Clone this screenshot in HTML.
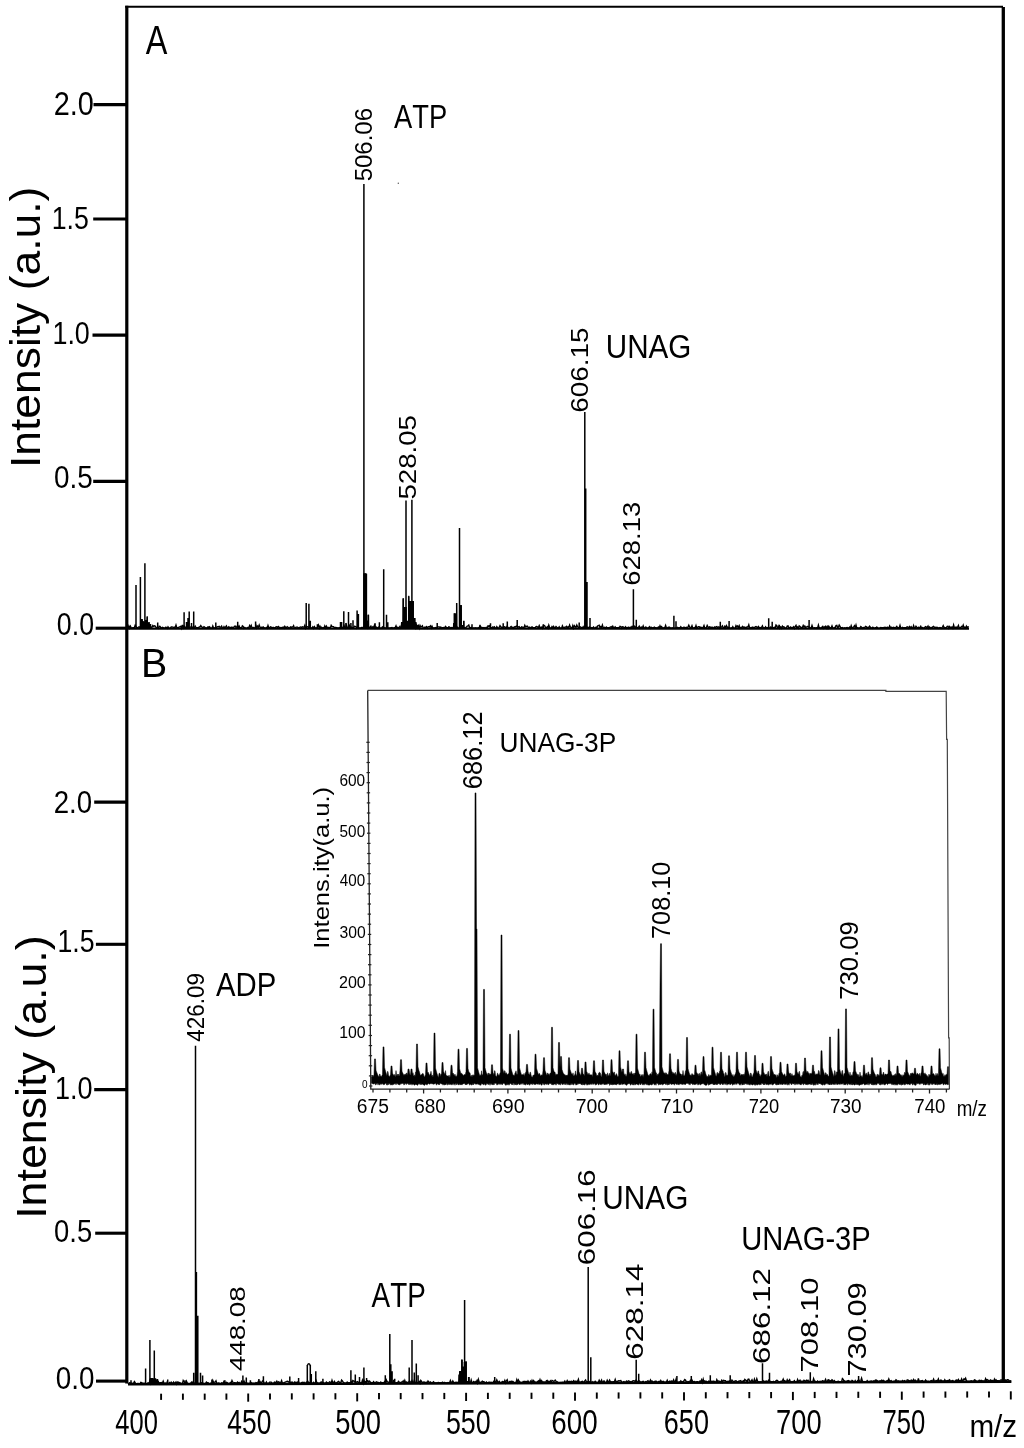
<!DOCTYPE html>
<html><head><meta charset="utf-8"><style>
html,body{margin:0;padding:0;background:#fff;}
svg{display:block;filter:grayscale(1);}
text{font-family:"Liberation Sans",sans-serif;font-size:100px;font-kerning:none;fill:#000;}
</style></head><body>
<svg width="1024" height="1448" viewBox="0 0 1024 1448">
<rect width="1024" height="1448" fill="#fff"/>
<path d="M126.8 5.8 V1383.5" stroke="#000" stroke-width="3.2" fill="none"/>
<path d="M125.2 6.7 H1003" stroke="#000" stroke-width="1.9" fill="none"/>
<path d="M1003.3 7 V1382" stroke="#000" stroke-width="3.3" fill="none"/>
<path d="M93.5 104.6 H127" stroke="#000" stroke-width="3.1"/>
<path d="M93.2 219.0 H127" stroke="#000" stroke-width="3.1"/>
<path d="M92.5 335.1 H127" stroke="#000" stroke-width="3.1"/>
<path d="M93.2 481.4 H127" stroke="#000" stroke-width="3.1"/>
<path d="M95.7 628.2 H127" stroke="#000" stroke-width="3.1"/>
<path d="M94.2 802.1 H127" stroke="#000" stroke-width="3.1"/>
<path d="M95.9 944.3 H127" stroke="#000" stroke-width="3.1"/>
<path d="M94.2 1089.6 H127" stroke="#000" stroke-width="3.1"/>
<path d="M95.2 1233.2 H127" stroke="#000" stroke-width="3.1"/>
<path d="M96.0 1381.1 H127" stroke="#000" stroke-width="3.1"/>
<text transform="matrix(0.2891 0 0 0.3263 53.65 114.68)">2.0</text>
<text transform="matrix(0.2673 0 0 0.3225 51.66 229.29)">1.5</text>
<text transform="matrix(0.2690 0 0 0.3136 52.45 344.29)">1.0</text>
<text transform="matrix(0.2788 0 0 0.3150 54.01 487.79)">0.5</text>
<text transform="matrix(0.2675 0 0 0.3107 56.85 634.90)">0.0</text>
<text transform="matrix(0.2760 0 0 0.3136 53.71 812.89)">2.0</text>
<text transform="matrix(0.2673 0 0 0.3225 57.46 951.79)">1.5</text>
<text transform="matrix(0.2706 0 0 0.3150 55.04 1098.79)">1.0</text>
<text transform="matrix(0.2742 0 0 0.3164 54.03 1241.59)">0.5</text>
<text transform="matrix(0.2782 0 0 0.3093 55.81 1388.50)">0.0</text>
<text transform="matrix(0.3242 0 0 0.4055 145.84 53.50)">A</text>
<text transform="matrix(0.3927 0 0 0.4041 141.08 677.30)">B</text>
<text transform="matrix(0 -0.4444 0.4302 0 39.77 468.10)">Intensity (a.u.)</text>
<text transform="matrix(0 -0.4475 0.4270 0 45.94 1218.83)">Intensity (a.u.)</text>
<text transform="matrix(0.2558 0 0 0.3503 115.21 1434.06)">400</text>
<text transform="matrix(0.2639 0 0 0.3503 227.29 1434.06)">450</text>
<text transform="matrix(0.2737 0 0 0.3503 335.20 1434.06)">500</text>
<text transform="matrix(0.2687 0 0 0.3503 445.92 1434.06)">550</text>
<text transform="matrix(0.2781 0 0 0.3503 551.29 1434.06)">600</text>
<text transform="matrix(0.2705 0 0 0.3503 663.83 1434.06)">650</text>
<text transform="matrix(0.2731 0 0 0.3503 776.10 1434.06)">700</text>
<text transform="matrix(0.2566 0 0 0.3503 882.38 1434.06)">750</text>
<text transform="matrix(0.2964 0 0 0.3077 969.43 1437.00)">m/z</text>
<path d="M161.1 1393.7 V1399.9" stroke="#000" stroke-width="1.9"/>
<path d="M182.9 1393.6 V1399.8" stroke="#000" stroke-width="1.9"/>
<path d="M204.7 1393.6 V1399.8" stroke="#000" stroke-width="1.9"/>
<path d="M226.4 1393.5 V1399.7" stroke="#000" stroke-width="1.9"/>
<path d="M248.2 1393.5 V1401.7" stroke="#000" stroke-width="1.9"/>
<path d="M270.0 1393.4 V1399.6" stroke="#000" stroke-width="1.9"/>
<path d="M291.8 1393.3 V1399.5" stroke="#000" stroke-width="1.9"/>
<path d="M313.6 1393.3 V1399.5" stroke="#000" stroke-width="1.9"/>
<path d="M335.4 1393.2 V1399.4" stroke="#000" stroke-width="1.9"/>
<path d="M357.2 1393.2 V1401.4" stroke="#000" stroke-width="1.9"/>
<path d="M379.0 1393.1 V1399.3" stroke="#000" stroke-width="1.9"/>
<path d="M400.7 1393.0 V1399.2" stroke="#000" stroke-width="1.9"/>
<path d="M422.5 1393.0 V1399.2" stroke="#000" stroke-width="1.9"/>
<path d="M444.3 1392.9 V1399.1" stroke="#000" stroke-width="1.9"/>
<path d="M466.1 1392.8 V1401.0" stroke="#000" stroke-width="1.9"/>
<path d="M487.9 1392.8 V1399.0" stroke="#000" stroke-width="1.9"/>
<path d="M509.7 1392.7 V1398.9" stroke="#000" stroke-width="1.9"/>
<path d="M531.5 1392.7 V1398.9" stroke="#000" stroke-width="1.9"/>
<path d="M553.3 1392.6 V1398.8" stroke="#000" stroke-width="1.9"/>
<path d="M575.0 1392.5 V1400.7" stroke="#000" stroke-width="1.9"/>
<path d="M596.8 1392.5 V1398.7" stroke="#000" stroke-width="1.9"/>
<path d="M618.6 1392.4 V1398.6" stroke="#000" stroke-width="1.9"/>
<path d="M640.4 1392.3 V1398.5" stroke="#000" stroke-width="1.9"/>
<path d="M662.2 1392.3 V1398.5" stroke="#000" stroke-width="1.9"/>
<path d="M684.0 1392.2 V1400.4" stroke="#000" stroke-width="1.9"/>
<path d="M705.8 1392.2 V1398.4" stroke="#000" stroke-width="1.9"/>
<path d="M727.5 1392.1 V1398.3" stroke="#000" stroke-width="1.9"/>
<path d="M749.3 1392.0 V1398.2" stroke="#000" stroke-width="1.9"/>
<path d="M771.1 1392.0 V1398.2" stroke="#000" stroke-width="1.9"/>
<path d="M792.9 1391.9 V1400.1" stroke="#000" stroke-width="1.9"/>
<path d="M814.7 1391.9 V1398.1" stroke="#000" stroke-width="1.9"/>
<path d="M836.5 1391.8 V1398.0" stroke="#000" stroke-width="1.9"/>
<path d="M858.3 1391.7 V1397.9" stroke="#000" stroke-width="1.9"/>
<path d="M880.1 1391.7 V1397.9" stroke="#000" stroke-width="1.9"/>
<path d="M901.8 1391.6 V1399.8" stroke="#000" stroke-width="1.9"/>
<path d="M923.6 1391.5 V1397.7" stroke="#000" stroke-width="1.9"/>
<path d="M945.4 1391.5 V1397.7" stroke="#000" stroke-width="1.9"/>
<path d="M967.2 1391.4 V1397.6" stroke="#000" stroke-width="1.9"/>
<path d="M989.0 1391.4 V1397.6" stroke="#000" stroke-width="1.9"/>
<path d="M1010.8 1391.3 V1399.5" stroke="#000" stroke-width="1.9"/>
<circle cx="398.3" cy="183.3" r="0.7" fill="#555"/>
<text transform="matrix(0.2735 0 0 0.3314 394.05 127.80)">ATP</text>
<text transform="matrix(0.2963 0 0 0.3333 605.81 358.27)">UNAG</text>
<text transform="matrix(0.2933 0 0 0.3329 215.94 995.70)">ADP</text>
<text transform="matrix(0.2788 0 0 0.3430 371.55 1306.60)">ATP</text>
<text transform="matrix(0.2977 0 0 0.3362 602.30 1208.67)">UNAG</text>
<text transform="matrix(0.2913 0 0 0.3404 741.25 1249.67)">UNAG-3P</text>
<text transform="matrix(0 -0.2400 0.2387 0 371.67 181.36)">506.06</text>
<text transform="matrix(0 -0.2762 0.2387 0 415.67 499.51)">528.05</text>
<text transform="matrix(0 -0.2792 0.2415 0 588.46 412.72)">606.15</text>
<text transform="matrix(0 -0.2743 0.2359 0 639.67 585.69)">628.13</text>
<text transform="matrix(0 -0.2249 0.2330 0 203.97 1041.72)">426.09</text>
<text transform="matrix(0 -0.2787 0.2133 0 244.79 1371.34)">448.08</text>
<text transform="matrix(0 -0.3131 0.2345 0 594.57 1265.19)">606.16</text>
<text transform="matrix(0 -0.3146 0.2345 0 643.17 1359.70)">628.14</text>
<text transform="matrix(0 -0.3141 0.2359 0 769.57 1364.00)">686.12</text>
<text transform="matrix(0 -0.3110 0.2429 0 817.96 1372.49)">708.10</text>
<text transform="matrix(0 -0.3085 0.2486 0 866.26 1376.58)">730.09</text>
<path d="M128.0 628.60 L969.0 628.60" stroke="#000" stroke-width="2.4"/><path d="M128.0 628.0 L128.8 626.0 L129.6 628.1 L130.4 626.2 L131.2 627.9 L132.0 628.1 L132.8 627.8 L133.6 627.8 L134.4 627.4 L135.2 625.2 L136.0 626.5 L136.8 627.8 L137.6 627.7 L138.4 627.1 L139.2 626.8 L140.0 628.2 L140.8 627.5 L141.6 627.9 L142.4 627.8 L143.2 626.6 L144.0 627.2 L144.8 627.7 L145.6 626.3 L146.4 625.6 L147.2 625.6 L148.0 627.4 L148.8 626.5 L149.6 627.4 L150.4 627.2 L151.2 627.6 L152.0 627.2 L152.8 625.5 L153.6 626.4 L154.4 625.8 L155.2 626.1 L156.0 627.3 L156.8 628.0 L157.6 628.1 L158.4 628.3 L159.2 626.2 L160.0 626.3 L160.8 627.7 L161.6 628.1 L162.4 627.3 L163.2 627.7 L164.0 628.1 L164.8 628.2 L165.6 627.2 L166.4 627.3 L167.2 628.3 L168.0 626.8 L168.8 627.9 L169.6 628.2 L170.4 628.0 L171.2 627.0 L172.0 627.0 L172.8 627.1 L173.6 627.4 L174.4 627.3 L175.2 627.5 L176.0 625.1 L176.8 627.7 L177.6 627.8 L178.4 627.7 L179.2 626.9 L180.0 626.9 L180.8 626.4 L181.6 628.3 L182.4 624.9 L183.2 627.8 L184.0 626.0 L184.8 627.3 L185.6 627.3 L186.4 627.1 L187.2 627.4 L188.0 626.8 L188.8 628.0 L189.6 627.7 L190.4 627.2 L191.2 626.9 L192.0 628.1 L192.8 627.2 L193.6 628.2 L194.4 627.5 L195.2 626.1 L196.0 627.5 L196.8 627.8 L197.6 627.8 L198.4 627.9 L199.2 627.0 L200.0 626.9 L200.8 625.6 L201.6 626.8 L202.4 627.4 L203.2 627.5 L204.0 626.7 L204.8 627.3 L205.6 628.1 L206.4 628.2 L207.2 627.7 L208.0 626.8 L208.8 627.3 L209.6 626.8 L210.4 628.1 L211.2 628.2 L212.0 628.2 L212.8 626.0 L213.6 627.9 L214.4 628.0 L215.2 627.7 L216.0 628.2 L216.8 627.0 L217.6 626.8 L218.4 626.7 L219.2 626.4 L220.0 627.2 L220.8 627.1 L221.6 626.2 L222.4 628.3 L223.2 628.2 L224.0 626.7 L224.8 628.0 L225.6 627.0 L226.4 625.9 L227.2 628.3 L228.0 627.5 L228.8 626.7 L229.6 627.7 L230.4 627.4 L231.2 627.5 L232.0 627.1 L232.8 627.9 L233.6 627.7 L234.4 626.4 L235.2 626.1 L236.0 627.4 L236.8 626.7 L237.6 625.6 L238.4 627.8 L239.2 626.2 L240.0 628.0 L240.8 627.8 L241.6 627.8 L242.4 625.9 L243.2 626.4 L244.0 628.2 L244.8 627.4 L245.6 628.2 L246.4 628.3 L247.2 628.1 L248.0 627.4 L248.8 628.2 L249.6 625.6 L250.4 627.2 L251.2 625.4 L252.0 627.8 L252.8 627.6 L253.6 627.5 L254.4 628.3 L255.2 627.7 L256.0 625.6 L256.8 627.9 L257.6 626.2 L258.4 627.3 L259.2 625.1 L260.0 627.3 L260.8 627.6 L261.6 627.2 L262.4 627.5 L263.2 626.9 L264.0 627.7 L264.8 628.1 L265.6 628.3 L266.4 627.5 L267.2 628.2 L268.0 625.5 L268.8 627.7 L269.6 628.1 L270.4 626.8 L271.2 627.2 L272.0 627.8 L272.8 627.4 L273.6 627.4 L274.4 628.2 L275.2 627.6 L276.0 627.0 L276.8 626.8 L277.6 627.6 L278.4 626.6 L279.2 627.3 L280.0 628.2 L280.8 627.6 L281.6 627.7 L282.4 627.4 L283.2 627.1 L284.0 628.1 L284.8 626.3 L285.6 627.4 L286.4 627.6 L287.2 626.6 L288.0 627.2 L288.8 627.8 L289.6 628.2 L290.4 627.0 L291.2 627.4 L292.0 627.0 L292.8 627.0 L293.6 625.7 L294.4 628.1 L295.2 628.1 L296.0 627.2 L296.8 627.1 L297.6 627.1 L298.4 628.1 L299.2 627.7 L300.0 627.1 L300.8 627.0 L301.6 627.6 L302.4 626.8 L303.2 627.1 L304.0 627.2 L304.8 625.3 L305.6 628.3 L306.4 627.1 L307.2 626.8 L308.0 626.6 L308.8 628.2 L309.6 627.6 L310.4 627.3 L311.2 628.3 L312.0 628.2 L312.8 626.9 L313.6 628.3 L314.4 626.7 L315.2 627.9 L316.0 628.3 L316.8 627.8 L317.6 626.9 L318.4 625.1 L319.2 628.1 L320.0 626.2 L320.8 628.0 L321.6 627.2 L322.4 628.1 L323.2 627.7 L324.0 628.1 L324.8 625.9 L325.6 627.9 L326.4 626.2 L327.2 628.2 L328.0 627.3 L328.8 627.6 L329.6 627.5 L330.4 628.0 L331.2 625.4 L332.0 626.5 L332.8 626.6 L333.6 626.7 L334.4 628.1 L335.2 627.4 L336.0 627.5 L336.8 627.8 L337.6 627.9 L338.4 628.2 L339.2 627.6 L340.0 628.0 L340.8 627.9 L341.6 627.4 L342.4 627.8 L343.2 627.0 L344.0 625.5 L344.8 627.8 L345.6 628.3 L346.4 625.0 L347.2 627.5 L348.0 627.5 L348.8 628.1 L349.6 625.6 L350.4 627.9 L351.2 627.1 L352.0 627.9 L352.8 627.7 L353.6 627.9 L354.4 626.2 L355.2 626.4 L356.0 626.7 L356.8 628.2 L357.6 627.0 L358.4 627.4 L359.2 627.8 L360.0 628.1 L360.8 628.0 L361.6 627.5 L362.4 627.5 L363.2 628.1 L364.0 627.5 L364.8 626.0 L365.6 627.5 L366.4 628.0 L367.2 628.3 L368.0 626.3 L368.8 628.1 L369.6 627.4 L370.4 626.6 L371.2 627.9 L372.0 627.9 L372.8 626.8 L373.6 627.7 L374.4 625.3 L375.2 628.0 L376.0 627.0 L376.8 627.6 L377.6 628.3 L378.4 627.1 L379.2 627.0 L380.0 628.1 L380.8 628.2 L381.6 628.2 L382.4 626.9 L383.2 627.9 L384.0 628.2 L384.8 627.6 L385.6 628.2 L386.4 628.1 L387.2 627.6 L388.0 627.9 L388.8 628.3 L389.6 628.0 L390.4 628.0 L391.2 627.7 L392.0 627.6 L392.8 628.3 L393.6 628.0 L394.4 627.6 L395.2 627.6 L396.0 625.9 L396.8 628.1 L397.6 627.3 L398.4 627.7 L399.2 627.5 L400.0 626.3 L400.8 628.0 L401.6 627.1 L402.4 627.2 L403.2 628.0 L404.0 627.7 L404.8 626.9 L405.6 628.0 L406.4 626.6 L407.2 627.8 L408.0 627.8 L408.8 628.2 L409.6 627.1 L410.4 626.8 L411.2 627.2 L412.0 628.0 L412.8 628.0 L413.6 626.3 L414.4 627.2 L415.2 625.0 L416.0 628.2 L416.8 626.6 L417.6 627.9 L418.4 625.8 L419.2 628.1 L420.0 625.4 L420.8 627.1 L421.6 626.7 L422.4 625.8 L423.2 627.9 L424.0 628.3 L424.8 627.2 L425.6 627.6 L426.4 626.7 L427.2 628.1 L428.0 626.9 L428.8 626.8 L429.6 627.0 L430.4 625.9 L431.2 627.9 L432.0 626.2 L432.8 628.0 L433.6 627.9 L434.4 628.1 L435.2 627.6 L436.0 628.1 L436.8 627.5 L437.6 626.8 L438.4 626.9 L439.2 627.0 L440.0 627.2 L440.8 627.1 L441.6 628.3 L442.4 627.7 L443.2 627.8 L444.0 627.4 L444.8 628.1 L445.6 626.5 L446.4 627.4 L447.2 627.6 L448.0 628.1 L448.8 626.8 L449.6 627.0 L450.4 628.1 L451.2 627.6 L452.0 627.5 L452.8 627.9 L453.6 628.1 L454.4 628.1 L455.2 627.4 L456.0 628.3 L456.8 626.9 L457.6 627.4 L458.4 628.2 L459.2 628.0 L460.0 627.7 L460.8 627.9 L461.6 628.1 L462.4 628.0 L463.2 628.0 L464.0 627.6 L464.8 627.9 L465.6 627.8 L466.4 627.1 L467.2 626.1 L468.0 625.8 L468.8 625.0 L469.6 627.6 L470.4 627.9 L471.2 627.4 L472.0 628.2 L472.8 628.2 L473.6 627.9 L474.4 628.1 L475.2 627.7 L476.0 628.3 L476.8 627.9 L477.6 628.1 L478.4 627.7 L479.2 628.2 L480.0 625.0 L480.8 628.1 L481.6 627.2 L482.4 627.5 L483.2 628.1 L484.0 627.6 L484.8 628.0 L485.6 627.7 L486.4 627.3 L487.2 628.2 L488.0 625.9 L488.8 626.2 L489.6 625.8 L490.4 627.8 L491.2 627.7 L492.0 627.7 L492.8 627.0 L493.6 627.6 L494.4 626.9 L495.2 628.1 L496.0 628.2 L496.8 626.6 L497.6 627.8 L498.4 628.2 L499.2 627.4 L500.0 625.7 L500.8 626.9 L501.6 627.5 L502.4 627.2 L503.2 627.9 L504.0 627.0 L504.8 626.8 L505.6 628.0 L506.4 627.7 L507.2 626.2 L508.0 627.7 L508.8 628.0 L509.6 628.1 L510.4 627.1 L511.2 626.5 L512.0 627.6 L512.8 627.4 L513.6 628.2 L514.4 626.8 L515.2 627.1 L516.0 626.3 L516.8 626.0 L517.6 626.8 L518.4 627.0 L519.2 626.7 L520.0 628.0 L520.8 628.0 L521.6 626.9 L522.4 627.2 L523.2 627.5 L524.0 627.9 L524.8 625.3 L525.6 626.8 L526.4 626.5 L527.2 626.1 L528.0 626.9 L528.8 628.2 L529.6 627.2 L530.4 627.8 L531.2 627.3 L532.0 626.9 L532.8 627.6 L533.6 627.7 L534.4 627.7 L535.2 627.9 L536.0 626.7 L536.8 626.5 L537.6 627.1 L538.4 627.5 L539.2 625.7 L540.0 627.8 L540.8 627.5 L541.6 627.1 L542.4 628.2 L543.2 626.0 L544.0 625.4 L544.8 625.9 L545.6 627.8 L546.4 628.1 L547.2 626.9 L548.0 628.2 L548.8 625.1 L549.6 627.5 L550.4 628.3 L551.2 628.2 L552.0 626.7 L552.8 627.9 L553.6 626.5 L554.4 627.9 L555.2 627.6 L556.0 626.5 L556.8 627.3 L557.6 627.9 L558.4 628.2 L559.2 626.9 L560.0 628.2 L560.8 628.2 L561.6 628.2 L562.4 625.9 L563.2 627.6 L564.0 627.7 L564.8 627.3 L565.6 627.2 L566.4 626.4 L567.2 627.9 L568.0 626.8 L568.8 627.7 L569.6 625.0 L570.4 626.9 L571.2 627.8 L572.0 628.2 L572.8 625.6 L573.6 628.1 L574.4 625.8 L575.2 626.8 L576.0 627.5 L576.8 625.1 L577.6 626.8 L578.4 627.2 L579.2 627.2 L580.0 626.8 L580.8 627.1 L581.6 627.7 L582.4 628.1 L583.2 626.7 L584.0 628.0 L584.8 626.7 L585.6 627.1 L586.4 628.0 L587.2 627.3 L588.0 628.1 L588.8 627.4 L589.6 627.0 L590.4 628.0 L591.2 628.0 L592.0 627.6 L592.8 628.3 L593.6 627.1 L594.4 628.3 L595.2 627.8 L596.0 627.2 L596.8 628.1 L597.6 625.9 L598.4 625.7 L599.2 625.3 L600.0 627.7 L600.8 626.6 L601.6 627.5 L602.4 625.1 L603.2 627.6 L604.0 628.2 L604.8 627.3 L605.6 628.3 L606.4 627.1 L607.2 628.0 L608.0 627.7 L608.8 627.6 L609.6 627.5 L610.4 627.1 L611.2 626.7 L612.0 627.7 L612.8 626.3 L613.6 627.8 L614.4 627.8 L615.2 626.8 L616.0 627.9 L616.8 627.7 L617.6 627.8 L618.4 627.5 L619.2 628.2 L620.0 626.3 L620.8 626.5 L621.6 628.1 L622.4 626.8 L623.2 627.0 L624.0 627.3 L624.8 628.1 L625.6 626.9 L626.4 628.3 L627.2 627.5 L628.0 627.7 L628.8 627.1 L629.6 627.7 L630.4 628.1 L631.2 626.7 L632.0 627.7 L632.8 626.4 L633.6 627.5 L634.4 626.3 L635.2 628.0 L636.0 626.8 L636.8 627.3 L637.6 627.8 L638.4 627.3 L639.2 626.2 L640.0 628.1 L640.8 627.3 L641.6 627.1 L642.4 628.0 L643.2 625.9 L644.0 627.9 L644.8 628.1 L645.6 627.1 L646.4 627.3 L647.2 628.2 L648.0 627.9 L648.8 627.4 L649.6 626.6 L650.4 628.2 L651.2 627.3 L652.0 628.2 L652.8 627.8 L653.6 627.7 L654.4 627.2 L655.2 627.8 L656.0 627.8 L656.8 627.9 L657.6 627.8 L658.4 627.0 L659.2 627.9 L660.0 625.8 L660.8 627.5 L661.6 626.6 L662.4 627.8 L663.2 628.1 L664.0 627.8 L664.8 627.7 L665.6 625.5 L666.4 628.0 L667.2 628.3 L668.0 627.5 L668.8 627.3 L669.6 627.2 L670.4 628.1 L671.2 628.0 L672.0 628.2 L672.8 627.8 L673.6 628.1 L674.4 628.3 L675.2 628.3 L676.0 627.8 L676.8 628.1 L677.6 627.4 L678.4 628.1 L679.2 627.7 L680.0 628.0 L680.8 626.8 L681.6 627.9 L682.4 627.7 L683.2 628.2 L684.0 627.2 L684.8 628.2 L685.6 627.6 L686.4 627.3 L687.2 627.9 L688.0 627.1 L688.8 625.2 L689.6 627.0 L690.4 628.0 L691.2 627.6 L692.0 625.7 L692.8 628.1 L693.6 628.1 L694.4 627.5 L695.2 627.9 L696.0 625.5 L696.8 628.1 L697.6 627.2 L698.4 626.6 L699.2 626.6 L700.0 628.0 L700.8 627.2 L701.6 627.7 L702.4 627.8 L703.2 627.4 L704.0 625.6 L704.8 628.2 L705.6 627.9 L706.4 627.5 L707.2 625.5 L708.0 627.0 L708.8 628.0 L709.6 626.8 L710.4 627.1 L711.2 627.7 L712.0 627.1 L712.8 627.6 L713.6 627.9 L714.4 627.0 L715.2 627.7 L716.0 626.8 L716.8 626.6 L717.6 627.9 L718.4 627.0 L719.2 626.9 L720.0 628.3 L720.8 627.5 L721.6 627.0 L722.4 625.9 L723.2 627.8 L724.0 628.2 L724.8 626.3 L725.6 627.8 L726.4 625.7 L727.2 627.2 L728.0 627.1 L728.8 627.4 L729.6 628.2 L730.4 628.3 L731.2 627.9 L732.0 628.2 L732.8 626.7 L733.6 628.1 L734.4 628.2 L735.2 628.0 L736.0 625.7 L736.8 627.0 L737.6 626.0 L738.4 627.7 L739.2 625.7 L740.0 628.2 L740.8 627.5 L741.6 627.9 L742.4 626.4 L743.2 627.4 L744.0 626.9 L744.8 627.7 L745.6 627.4 L746.4 627.2 L747.2 627.0 L748.0 627.1 L748.8 624.9 L749.6 628.0 L750.4 627.9 L751.2 627.5 L752.0 627.6 L752.8 627.1 L753.6 627.6 L754.4 627.7 L755.2 626.9 L756.0 626.6 L756.8 627.1 L757.6 627.7 L758.4 626.5 L759.2 627.8 L760.0 627.6 L760.8 628.0 L761.6 627.4 L762.4 625.9 L763.2 628.1 L764.0 627.7 L764.8 628.2 L765.6 626.9 L766.4 628.1 L767.2 627.6 L768.0 627.9 L768.8 628.2 L769.6 628.2 L770.4 627.0 L771.2 627.2 L772.0 628.1 L772.8 628.1 L773.6 627.7 L774.4 627.4 L775.2 627.9 L776.0 625.0 L776.8 625.7 L777.6 628.2 L778.4 627.7 L779.2 624.8 L780.0 628.3 L780.8 627.0 L781.6 628.2 L782.4 626.1 L783.2 627.2 L784.0 626.8 L784.8 628.1 L785.6 628.0 L786.4 628.1 L787.2 626.0 L788.0 625.8 L788.8 627.9 L789.6 628.0 L790.4 627.0 L791.2 627.7 L792.0 627.4 L792.8 627.6 L793.6 626.7 L794.4 628.3 L795.2 626.5 L796.0 625.3 L796.8 627.9 L797.6 626.9 L798.4 628.2 L799.2 625.9 L800.0 626.5 L800.8 627.4 L801.6 627.5 L802.4 627.5 L803.2 625.5 L804.0 627.1 L804.8 626.1 L805.6 627.8 L806.4 626.9 L807.2 626.7 L808.0 626.4 L808.8 627.0 L809.6 627.4 L810.4 628.0 L811.2 627.9 L812.0 625.5 L812.8 627.8 L813.6 628.1 L814.4 627.8 L815.2 628.0 L816.0 628.0 L816.8 627.8 L817.6 627.9 L818.4 625.1 L819.2 628.0 L820.0 627.7 L820.8 628.3 L821.6 627.6 L822.4 626.6 L823.2 628.3 L824.0 626.8 L824.8 627.7 L825.6 626.5 L826.4 628.1 L827.2 626.4 L828.0 628.3 L828.8 626.3 L829.6 627.4 L830.4 627.9 L831.2 627.8 L832.0 625.8 L832.8 627.9 L833.6 628.2 L834.4 627.6 L835.2 627.8 L836.0 625.5 L836.8 625.3 L837.6 627.4 L838.4 627.2 L839.2 625.0 L840.0 626.3 L840.8 628.0 L841.6 627.8 L842.4 627.5 L843.2 628.2 L844.0 628.2 L844.8 627.8 L845.6 628.3 L846.4 627.7 L847.2 627.6 L848.0 628.3 L848.8 627.9 L849.6 627.1 L850.4 628.3 L851.2 625.7 L852.0 628.0 L852.8 627.7 L853.6 627.1 L854.4 625.8 L855.2 627.7 L856.0 625.1 L856.8 628.1 L857.6 627.8 L858.4 628.2 L859.2 628.2 L860.0 627.8 L860.8 626.6 L861.6 627.2 L862.4 628.3 L863.2 627.7 L864.0 627.5 L864.8 627.6 L865.6 626.4 L866.4 626.8 L867.2 628.2 L868.0 627.4 L868.8 627.6 L869.6 626.2 L870.4 627.2 L871.2 627.9 L872.0 628.3 L872.8 627.3 L873.6 627.9 L874.4 628.2 L875.2 627.8 L876.0 628.2 L876.8 627.0 L877.6 627.8 L878.4 628.1 L879.2 628.1 L880.0 628.0 L880.8 627.6 L881.6 627.8 L882.4 627.8 L883.2 627.5 L884.0 628.0 L884.8 627.3 L885.6 627.4 L886.4 628.2 L887.2 627.2 L888.0 627.9 L888.8 627.9 L889.6 625.9 L890.4 627.6 L891.2 627.3 L892.0 627.5 L892.8 628.0 L893.6 627.2 L894.4 627.5 L895.2 628.1 L896.0 627.3 L896.8 626.4 L897.6 627.8 L898.4 627.7 L899.2 627.7 L900.0 625.4 L900.8 628.1 L901.6 628.0 L902.4 627.4 L903.2 627.9 L904.0 627.7 L904.8 627.8 L905.6 627.8 L906.4 627.6 L907.2 626.8 L908.0 627.0 L908.8 628.2 L909.6 626.7 L910.4 628.0 L911.2 626.8 L912.0 628.2 L912.8 628.2 L913.6 625.7 L914.4 628.3 L915.2 627.9 L916.0 626.3 L916.8 627.2 L917.6 628.0 L918.4 627.3 L919.2 627.5 L920.0 627.9 L920.8 626.4 L921.6 628.0 L922.4 627.5 L923.2 627.9 L924.0 628.1 L924.8 627.2 L925.6 626.7 L926.4 627.2 L927.2 627.3 L928.0 626.1 L928.8 628.3 L929.6 627.1 L930.4 628.3 L931.2 627.6 L932.0 627.7 L932.8 626.9 L933.6 626.4 L934.4 627.3 L935.2 627.6 L936.0 627.2 L936.8 628.0 L937.6 627.4 L938.4 628.3 L939.2 627.9 L940.0 627.5 L940.8 627.8 L941.6 628.3 L942.4 627.0 L943.2 625.6 L944.0 627.8 L944.8 627.6 L945.6 628.1 L946.4 627.7 L947.2 626.4 L948.0 626.3 L948.8 628.1 L949.6 626.5 L950.4 627.6 L951.2 627.2 L952.0 627.0 L952.8 628.3 L953.6 624.9 L954.4 627.6 L955.2 627.9 L956.0 627.0 L956.8 627.7 L957.6 627.2 L958.4 625.4 L959.2 628.0 L960.0 628.1 L960.8 627.4 L961.6 626.5 L962.4 627.0 L963.2 625.1 L964.0 628.0 L964.8 627.3 L965.6 628.0 L966.4 626.1 L967.2 627.7 L968.0 626.8 L968.8 627.2" fill="none" stroke="#000" stroke-width="1.4" stroke-linejoin="miter"/>
<path d="M136.0 628.8 V584.9 M140.4 628.8 V577.1 M144.9 628.8 V563.3 M147.2 628.8 V616.6 M142.0 628.8 V619.0 M143.0 628.8 V621.0 M146.0 628.8 V620.0 M149.0 628.8 V622.0 M150.5 628.8 V624.0 M157.7 628.8 V622.5 M184.1 628.8 V612.2 M186.5 628.8 V622.0 M189.2 628.8 V611.5 M188.0 628.8 V618.0 M193.7 628.8 V611.5 M191.5 628.8 V623.0 M215.8 628.8 V622.5 M237.7 628.8 V621.8 M255.6 628.8 V621.5 M306.2 628.8 V603.1 M308.9 628.8 V603.7 M310.3 628.8 V620.8 M317.4 628.8 V624.3 M340.5 628.8 V622.0 M341.6 628.8 V622.0 M343.8 628.8 V611.3 M345.9 628.8 V623.0 M348.5 628.8 V612.0 M350.9 628.8 V623.0 M353.0 628.8 V620.2 M357.1 628.8 V610.6 M358.4 628.8 V614.0 M363.9 628.8 V184.0 M365.4 628.8 V573.4 M366.4 628.8 V573.7 M368.4 628.8 V614.7 M371.0 628.8 V625.4 M375.1 628.8 V623.2 M379.4 628.8 V622.2 M383.7 628.8 V569.3 M386.5 628.8 V614.7 M387.8 628.8 V622.2 M403.3 628.8 V598.3 M404.5 628.8 V610.0 M406.0 628.8 V500.5 M408.7 628.8 V596.2 M410.5 628.8 V601.0 M411.9 628.8 V499.8 M413.2 628.8 V601.0 M414.6 628.8 V618.1 M437.2 628.8 V622.9 M454.3 628.8 V613.3 M456.7 628.8 V603.0 M459.5 628.8 V527.9 M461.1 628.8 V605.1 M463.8 628.8 V620.8 M472.0 628.8 V624.2 M490.5 628.8 V623.3 M503.2 628.8 V623.3 M507.3 628.8 V621.5 M517.2 628.8 V620.1 M543.3 628.8 V624.2 M579.2 628.8 V622.4 M584.8 628.8 V412.0 M585.7 628.8 V488.6 M587.0 628.8 V582.0 M590.0 628.8 V618.0 M633.4 628.8 V589.2 M636.3 628.8 V619.7 M673.9 628.8 V615.7 M676.0 628.8 V621.3 M720.3 628.8 V621.7 M729.1 628.8 V621.0 M768.7 628.8 V618.3 M772.2 628.8 V621.7 M809.1 628.8 V620.1" stroke="#000" stroke-width="1.5" fill="none"/>
<path d="M140.5 628.5 L140.8 619.0 L142.5 619.0 L143.0 621.5 L145.0 621.5 L146.5 621.0 L146.8 616.5 L147.8 616.5 L148.0 622.5 L149.5 622.5 L150.0 625.5 L151.5 626.5 L152.0 628.5Z" fill="#000"/>
<path d="M400.5 628.5 L401.0 622.0 L402.4 622.0 L402.6 598.5 L403.7 598.5 L403.9 607.0 L406.8 607.0 L406.9 620.7 L408.1 620.7 L408.2 595.8 L409.3 595.8 L409.4 601.0 L413.7 601.0 L413.8 618.0 L415.4 618.0 L415.5 622.0 L416.5 622.0 L417.0 624.5 L418.5 625.5 L419.0 628.5Z" fill="#000"/>
<path d="M452.8 628.5 L453.1 623.0 L454.3 623.0 L454.3 613.2 L456.0 613.2 L456.0 603.0 L457.0 603.0 L457.2 628.5Z" fill="#000"/>
<path d="M459.5 628.5 L459.8 605.2 L461.8 605.2 L462.0 625.0 L463.0 625.0 L463.1 621.0 L464.3 621.0 L464.5 627.0 L465.0 628.5Z" fill="#000"/>
<path d="M363.2 628.5 L363.2 573.2 L366.5 573.2 L366.5 620.5 L367.6 620.5 L367.6 614.7 L369.0 614.7 L369.2 628.5Z" fill="#000"/>
<path d="M128.0 1384.30 L1011.4 1381.80" stroke="#000" stroke-width="2.4"/><path d="M128.0 1382.9 L128.8 1383.7 L129.6 1382.8 L130.4 1383.0 L131.2 1383.2 L132.0 1383.2 L132.8 1383.6 L133.6 1383.1 L134.4 1381.6 L135.2 1382.7 L136.0 1383.7 L136.8 1383.8 L137.6 1383.5 L138.4 1383.4 L139.2 1383.9 L140.0 1383.7 L140.8 1382.3 L141.6 1382.7 L142.4 1383.2 L143.2 1383.2 L144.0 1383.5 L144.8 1383.2 L145.6 1383.3 L146.4 1383.8 L147.2 1383.8 L148.0 1382.9 L148.8 1383.8 L149.6 1381.8 L150.4 1383.9 L151.2 1382.6 L152.0 1383.1 L152.8 1383.1 L153.6 1383.8 L154.4 1382.9 L155.2 1382.5 L156.0 1383.0 L156.8 1381.5 L157.6 1382.6 L158.4 1382.1 L159.2 1383.9 L160.0 1382.8 L160.8 1382.8 L161.6 1382.5 L162.4 1383.0 L163.2 1381.2 L164.0 1383.3 L164.8 1383.3 L165.6 1383.1 L166.4 1383.9 L167.2 1382.0 L168.0 1383.7 L168.8 1383.4 L169.6 1382.5 L170.4 1383.6 L171.2 1382.1 L172.0 1383.0 L172.8 1383.1 L173.6 1382.1 L174.4 1383.8 L175.2 1382.8 L176.0 1382.0 L176.8 1383.9 L177.6 1382.0 L178.4 1382.2 L179.2 1382.5 L180.0 1382.7 L180.8 1383.8 L181.6 1383.4 L182.4 1383.8 L183.2 1380.5 L184.0 1381.8 L184.8 1382.8 L185.6 1383.2 L186.4 1381.1 L187.2 1382.8 L188.0 1383.3 L188.8 1383.8 L189.6 1383.5 L190.4 1383.7 L191.2 1382.6 L192.0 1381.9 L192.8 1383.6 L193.6 1383.6 L194.4 1383.0 L195.2 1383.5 L196.0 1383.2 L196.8 1381.6 L197.6 1383.0 L198.4 1383.4 L199.2 1383.4 L200.0 1383.3 L200.8 1382.6 L201.6 1383.1 L202.4 1382.6 L203.2 1383.5 L204.0 1383.4 L204.8 1383.7 L205.6 1383.4 L206.4 1382.0 L207.2 1382.7 L208.0 1382.7 L208.8 1383.3 L209.6 1383.8 L210.4 1383.3 L211.2 1383.3 L212.0 1383.6 L212.8 1380.5 L213.6 1382.6 L214.4 1382.1 L215.2 1382.1 L216.0 1380.8 L216.8 1383.2 L217.6 1383.6 L218.4 1383.1 L219.2 1383.2 L220.0 1383.5 L220.8 1383.7 L221.6 1382.8 L222.4 1383.3 L223.2 1382.9 L224.0 1381.3 L224.8 1383.1 L225.6 1383.1 L226.4 1382.3 L227.2 1382.5 L228.0 1383.7 L228.8 1383.4 L229.6 1383.5 L230.4 1382.6 L231.2 1382.8 L232.0 1380.6 L232.8 1382.2 L233.6 1383.5 L234.4 1382.7 L235.2 1382.7 L236.0 1383.6 L236.8 1382.8 L237.6 1382.1 L238.4 1383.4 L239.2 1382.6 L240.0 1383.5 L240.8 1383.3 L241.6 1381.5 L242.4 1383.3 L243.2 1382.3 L244.0 1381.0 L244.8 1383.0 L245.6 1383.1 L246.4 1382.2 L247.2 1383.5 L248.0 1383.5 L248.8 1383.5 L249.6 1383.3 L250.4 1383.5 L251.2 1382.7 L252.0 1383.1 L252.8 1383.3 L253.6 1383.3 L254.4 1383.2 L255.2 1383.5 L256.0 1382.6 L256.8 1382.9 L257.6 1383.0 L258.4 1381.3 L259.2 1383.3 L260.0 1381.5 L260.8 1382.8 L261.6 1382.7 L262.4 1381.3 L263.2 1380.5 L264.0 1383.1 L264.8 1383.2 L265.6 1383.5 L266.4 1382.0 L267.2 1383.5 L268.0 1383.5 L268.8 1383.1 L269.6 1382.1 L270.4 1382.1 L271.2 1382.2 L272.0 1383.2 L272.8 1383.1 L273.6 1383.5 L274.4 1382.1 L275.2 1382.4 L276.0 1382.4 L276.8 1381.2 L277.6 1383.2 L278.4 1381.8 L279.2 1382.1 L280.0 1383.2 L280.8 1382.5 L281.6 1380.6 L282.4 1383.4 L283.2 1382.8 L284.0 1383.3 L284.8 1382.3 L285.6 1381.9 L286.4 1381.7 L287.2 1381.3 L288.0 1381.5 L288.8 1382.1 L289.6 1382.9 L290.4 1382.2 L291.2 1382.5 L292.0 1381.9 L292.8 1383.2 L293.6 1383.3 L294.4 1382.1 L295.2 1382.7 L296.0 1382.2 L296.8 1383.3 L297.6 1382.2 L298.4 1381.4 L299.2 1383.2 L300.0 1383.5 L300.8 1383.4 L301.6 1382.7 L302.4 1382.4 L303.2 1383.0 L304.0 1382.2 L304.8 1383.2 L305.6 1383.3 L306.4 1382.1 L307.2 1383.1 L308.0 1381.7 L308.8 1383.1 L309.6 1382.7 L310.4 1382.1 L311.2 1383.4 L312.0 1383.2 L312.8 1383.3 L313.6 1382.3 L314.4 1383.4 L315.2 1383.4 L316.0 1380.3 L316.8 1382.4 L317.6 1383.1 L318.4 1383.3 L319.2 1383.1 L320.0 1383.3 L320.8 1382.2 L321.6 1382.0 L322.4 1382.8 L323.2 1382.5 L324.0 1383.4 L324.8 1383.2 L325.6 1383.2 L326.4 1382.0 L327.2 1382.7 L328.0 1383.2 L328.8 1382.8 L329.6 1381.8 L330.4 1382.2 L331.2 1383.2 L332.0 1380.4 L332.8 1382.8 L333.6 1382.8 L334.4 1381.4 L335.2 1382.9 L336.0 1383.2 L336.8 1382.5 L337.6 1382.2 L338.4 1381.4 L339.2 1382.1 L340.0 1383.0 L340.8 1382.8 L341.6 1380.1 L342.4 1380.9 L343.2 1382.2 L344.0 1383.2 L344.8 1383.0 L345.6 1383.3 L346.4 1383.0 L347.2 1382.1 L348.0 1383.1 L348.8 1382.7 L349.6 1382.8 L350.4 1383.0 L351.2 1381.7 L352.0 1383.0 L352.8 1380.6 L353.6 1381.0 L354.4 1381.2 L355.2 1382.4 L356.0 1381.9 L356.8 1382.3 L357.6 1381.7 L358.4 1382.3 L359.2 1382.9 L360.0 1382.5 L360.8 1383.0 L361.6 1383.2 L362.4 1380.4 L363.2 1383.2 L364.0 1380.5 L364.8 1382.3 L365.6 1381.8 L366.4 1382.9 L367.2 1380.7 L368.0 1380.9 L368.8 1382.2 L369.6 1381.2 L370.4 1382.1 L371.2 1383.3 L372.0 1382.5 L372.8 1382.8 L373.6 1381.7 L374.4 1382.6 L375.2 1383.3 L376.0 1382.0 L376.8 1381.8 L377.6 1382.9 L378.4 1382.6 L379.2 1382.8 L380.0 1382.9 L380.8 1382.0 L381.6 1382.9 L382.4 1382.6 L383.2 1382.6 L384.0 1382.5 L384.8 1381.5 L385.6 1382.8 L386.4 1380.0 L387.2 1381.8 L388.0 1381.9 L388.8 1382.5 L389.6 1382.8 L390.4 1381.7 L391.2 1381.4 L392.0 1383.1 L392.8 1383.0 L393.6 1379.8 L394.4 1383.0 L395.2 1382.9 L396.0 1382.9 L396.8 1382.7 L397.6 1383.0 L398.4 1381.4 L399.2 1382.1 L400.0 1382.4 L400.8 1382.8 L401.6 1382.0 L402.4 1382.1 L403.2 1380.9 L404.0 1382.8 L404.8 1380.5 L405.6 1382.9 L406.4 1382.0 L407.2 1382.9 L408.0 1382.1 L408.8 1382.1 L409.6 1380.9 L410.4 1381.9 L411.2 1382.7 L412.0 1380.7 L412.8 1382.5 L413.6 1382.8 L414.4 1380.1 L415.2 1382.5 L416.0 1382.9 L416.8 1383.0 L417.6 1382.4 L418.4 1382.2 L419.2 1381.5 L420.0 1383.2 L420.8 1380.5 L421.6 1381.4 L422.4 1383.1 L423.2 1382.2 L424.0 1381.8 L424.8 1382.9 L425.6 1382.3 L426.4 1382.2 L427.2 1382.9 L428.0 1381.0 L428.8 1382.0 L429.6 1383.0 L430.4 1382.0 L431.2 1382.6 L432.0 1382.9 L432.8 1382.5 L433.6 1381.7 L434.4 1382.8 L435.2 1382.9 L436.0 1382.9 L436.8 1382.9 L437.6 1382.7 L438.4 1382.4 L439.2 1382.6 L440.0 1382.7 L440.8 1383.0 L441.6 1382.7 L442.4 1382.1 L443.2 1383.1 L444.0 1382.5 L444.8 1382.4 L445.6 1383.0 L446.4 1383.0 L447.2 1383.0 L448.0 1382.5 L448.8 1382.9 L449.6 1382.8 L450.4 1380.5 L451.2 1382.7 L452.0 1382.6 L452.8 1381.0 L453.6 1382.4 L454.4 1382.9 L455.2 1382.3 L456.0 1382.7 L456.8 1382.2 L457.6 1382.5 L458.4 1382.8 L459.2 1382.0 L460.0 1380.2 L460.8 1382.2 L461.6 1382.2 L462.4 1383.0 L463.2 1382.8 L464.0 1381.2 L464.8 1382.6 L465.6 1382.2 L466.4 1382.4 L467.2 1382.4 L468.0 1381.7 L468.8 1381.6 L469.6 1382.7 L470.4 1383.0 L471.2 1380.0 L472.0 1382.7 L472.8 1382.8 L473.6 1381.6 L474.4 1382.5 L475.2 1381.6 L476.0 1382.5 L476.8 1381.2 L477.6 1383.0 L478.4 1379.5 L479.2 1382.0 L480.0 1382.9 L480.8 1382.1 L481.6 1381.9 L482.4 1381.2 L483.2 1381.8 L484.0 1381.7 L484.8 1382.9 L485.6 1382.7 L486.4 1381.9 L487.2 1382.7 L488.0 1382.8 L488.8 1382.3 L489.6 1382.2 L490.4 1382.7 L491.2 1382.2 L492.0 1382.6 L492.8 1382.6 L493.6 1381.4 L494.4 1380.7 L495.2 1382.3 L496.0 1382.0 L496.8 1379.8 L497.6 1381.7 L498.4 1382.4 L499.2 1381.3 L500.0 1382.3 L500.8 1382.6 L501.6 1382.2 L502.4 1381.6 L503.2 1381.7 L504.0 1382.4 L504.8 1380.5 L505.6 1382.8 L506.4 1380.8 L507.2 1379.8 L508.0 1382.4 L508.8 1382.8 L509.6 1381.6 L510.4 1381.7 L511.2 1381.1 L512.0 1381.9 L512.8 1381.4 L513.6 1382.0 L514.4 1382.7 L515.2 1382.5 L516.0 1382.8 L516.8 1379.8 L517.6 1382.3 L518.4 1379.9 L519.2 1381.3 L520.0 1382.7 L520.8 1382.0 L521.6 1382.5 L522.4 1382.7 L523.2 1381.5 L524.0 1382.2 L524.8 1381.4 L525.6 1381.7 L526.4 1381.5 L527.2 1382.6 L528.0 1381.0 L528.8 1382.4 L529.6 1382.8 L530.4 1381.2 L531.2 1382.7 L532.0 1380.5 L532.8 1382.5 L533.6 1380.6 L534.4 1381.7 L535.2 1382.0 L536.0 1382.3 L536.8 1382.1 L537.6 1381.7 L538.4 1380.8 L539.2 1382.0 L540.0 1379.6 L540.8 1382.0 L541.6 1380.7 L542.4 1382.2 L543.2 1381.8 L544.0 1382.5 L544.8 1381.9 L545.6 1382.7 L546.4 1380.8 L547.2 1380.4 L548.0 1382.6 L548.8 1381.4 L549.6 1382.2 L550.4 1380.8 L551.2 1382.2 L552.0 1380.4 L552.8 1380.8 L553.6 1381.3 L554.4 1381.2 L555.2 1380.2 L556.0 1381.1 L556.8 1382.4 L557.6 1381.9 L558.4 1382.7 L559.2 1382.7 L560.0 1382.4 L560.8 1382.5 L561.6 1382.5 L562.4 1382.3 L563.2 1382.5 L564.0 1382.1 L564.8 1381.0 L565.6 1382.7 L566.4 1382.4 L567.2 1380.6 L568.0 1382.3 L568.8 1381.4 L569.6 1381.4 L570.4 1381.9 L571.2 1381.3 L572.0 1382.4 L572.8 1381.6 L573.6 1380.7 L574.4 1381.8 L575.2 1381.2 L576.0 1381.9 L576.8 1381.2 L577.6 1381.5 L578.4 1379.3 L579.2 1382.5 L580.0 1382.0 L580.8 1382.4 L581.6 1381.7 L582.4 1381.4 L583.2 1381.9 L584.0 1382.3 L584.8 1381.0 L585.6 1380.1 L586.4 1381.8 L587.2 1382.0 L588.0 1381.6 L588.8 1381.4 L589.6 1382.7 L590.4 1381.5 L591.2 1382.0 L592.0 1382.5 L592.8 1381.8 L593.6 1382.6 L594.4 1382.3 L595.2 1381.3 L596.0 1382.2 L596.8 1382.6 L597.6 1382.4 L598.4 1382.3 L599.2 1380.2 L600.0 1381.6 L600.8 1381.8 L601.6 1380.2 L602.4 1382.7 L603.2 1382.0 L604.0 1380.9 L604.8 1382.0 L605.6 1382.6 L606.4 1382.4 L607.2 1380.3 L608.0 1381.9 L608.8 1381.7 L609.6 1380.1 L610.4 1381.7 L611.2 1381.7 L612.0 1382.4 L612.8 1381.8 L613.6 1381.8 L614.4 1381.7 L615.2 1379.5 L616.0 1382.1 L616.8 1381.4 L617.6 1381.4 L618.4 1380.8 L619.2 1381.0 L620.0 1380.7 L620.8 1380.6 L621.6 1381.9 L622.4 1382.1 L623.2 1382.0 L624.0 1381.6 L624.8 1382.3 L625.6 1382.1 L626.4 1381.2 L627.2 1382.2 L628.0 1381.1 L628.8 1380.9 L629.6 1381.7 L630.4 1381.8 L631.2 1381.6 L632.0 1382.5 L632.8 1380.8 L633.6 1380.6 L634.4 1380.8 L635.2 1381.7 L636.0 1380.3 L636.8 1382.1 L637.6 1382.4 L638.4 1380.6 L639.2 1380.9 L640.0 1381.6 L640.8 1382.0 L641.6 1382.4 L642.4 1381.7 L643.2 1381.3 L644.0 1382.3 L644.8 1382.4 L645.6 1381.6 L646.4 1382.2 L647.2 1381.2 L648.0 1380.7 L648.8 1382.0 L649.6 1381.8 L650.4 1380.1 L651.2 1382.5 L652.0 1381.0 L652.8 1381.9 L653.6 1382.0 L654.4 1381.5 L655.2 1381.4 L656.0 1381.0 L656.8 1381.9 L657.6 1382.2 L658.4 1381.6 L659.2 1381.3 L660.0 1382.3 L660.8 1380.5 L661.6 1381.8 L662.4 1381.6 L663.2 1381.3 L664.0 1381.8 L664.8 1382.1 L665.6 1382.2 L666.4 1382.0 L667.2 1380.3 L668.0 1382.5 L668.8 1381.8 L669.6 1381.2 L670.4 1382.0 L671.2 1381.0 L672.0 1381.2 L672.8 1381.9 L673.6 1379.8 L674.4 1381.8 L675.2 1382.1 L676.0 1379.4 L676.8 1382.4 L677.6 1382.4 L678.4 1382.4 L679.2 1382.1 L680.0 1382.3 L680.8 1380.9 L681.6 1381.8 L682.4 1381.8 L683.2 1382.1 L684.0 1380.7 L684.8 1379.5 L685.6 1380.2 L686.4 1382.1 L687.2 1382.3 L688.0 1381.5 L688.8 1381.9 L689.6 1382.1 L690.4 1380.4 L691.2 1381.5 L692.0 1380.2 L692.8 1381.7 L693.6 1381.6 L694.4 1381.5 L695.2 1382.1 L696.0 1382.3 L696.8 1381.7 L697.6 1381.8 L698.4 1382.1 L699.2 1382.3 L700.0 1381.1 L700.8 1382.3 L701.6 1379.9 L702.4 1382.3 L703.2 1379.2 L704.0 1382.1 L704.8 1381.0 L705.6 1381.6 L706.4 1381.2 L707.2 1381.8 L708.0 1382.2 L708.8 1381.1 L709.6 1381.3 L710.4 1382.2 L711.2 1381.2 L712.0 1382.0 L712.8 1381.3 L713.6 1381.3 L714.4 1381.5 L715.2 1382.3 L716.0 1382.1 L716.8 1379.7 L717.6 1381.4 L718.4 1381.0 L719.2 1381.1 L720.0 1381.6 L720.8 1382.3 L721.6 1380.4 L722.4 1382.2 L723.2 1380.3 L724.0 1380.5 L724.8 1380.8 L725.6 1380.8 L726.4 1382.1 L727.2 1381.6 L728.0 1381.2 L728.8 1381.5 L729.6 1381.0 L730.4 1381.9 L731.2 1381.9 L732.0 1380.1 L732.8 1381.1 L733.6 1381.4 L734.4 1381.4 L735.2 1381.0 L736.0 1380.7 L736.8 1381.5 L737.6 1382.1 L738.4 1381.3 L739.2 1381.0 L740.0 1381.0 L740.8 1380.7 L741.6 1382.0 L742.4 1382.0 L743.2 1380.8 L744.0 1381.6 L744.8 1379.4 L745.6 1380.1 L746.4 1380.6 L747.2 1382.0 L748.0 1379.3 L748.8 1379.1 L749.6 1380.8 L750.4 1381.7 L751.2 1381.2 L752.0 1379.9 L752.8 1381.8 L753.6 1382.1 L754.4 1379.2 L755.2 1381.8 L756.0 1381.2 L756.8 1378.8 L757.6 1381.2 L758.4 1381.9 L759.2 1381.9 L760.0 1381.9 L760.8 1381.8 L761.6 1382.2 L762.4 1381.6 L763.2 1380.9 L764.0 1382.1 L764.8 1381.2 L765.6 1381.5 L766.4 1381.1 L767.2 1381.3 L768.0 1381.6 L768.8 1380.1 L769.6 1380.7 L770.4 1381.9 L771.2 1381.7 L772.0 1381.7 L772.8 1382.0 L773.6 1381.4 L774.4 1382.0 L775.2 1381.8 L776.0 1380.8 L776.8 1380.3 L777.6 1380.5 L778.4 1382.1 L779.2 1382.0 L780.0 1382.0 L780.8 1381.4 L781.6 1381.7 L782.4 1380.8 L783.2 1379.1 L784.0 1381.6 L784.8 1380.8 L785.6 1381.6 L786.4 1382.0 L787.2 1379.8 L788.0 1381.6 L788.8 1380.6 L789.6 1379.7 L790.4 1382.0 L791.2 1382.0 L792.0 1381.5 L792.8 1382.1 L793.6 1381.5 L794.4 1380.6 L795.2 1382.1 L796.0 1381.9 L796.8 1382.0 L797.6 1379.5 L798.4 1381.4 L799.2 1381.0 L800.0 1380.2 L800.8 1381.9 L801.6 1381.2 L802.4 1381.3 L803.2 1381.8 L804.0 1380.3 L804.8 1380.8 L805.6 1381.3 L806.4 1380.2 L807.2 1380.8 L808.0 1380.2 L808.8 1381.7 L809.6 1381.6 L810.4 1380.6 L811.2 1381.6 L812.0 1381.7 L812.8 1381.7 L813.6 1378.6 L814.4 1381.0 L815.2 1381.1 L816.0 1381.9 L816.8 1382.0 L817.6 1381.1 L818.4 1381.8 L819.2 1381.9 L820.0 1381.3 L820.8 1381.5 L821.6 1381.5 L822.4 1380.8 L823.2 1380.9 L824.0 1381.8 L824.8 1381.1 L825.6 1379.4 L826.4 1381.7 L827.2 1382.0 L828.0 1379.9 L828.8 1379.8 L829.6 1381.6 L830.4 1380.8 L831.2 1380.9 L832.0 1379.7 L832.8 1380.4 L833.6 1382.0 L834.4 1380.7 L835.2 1381.7 L836.0 1381.6 L836.8 1382.0 L837.6 1381.4 L838.4 1381.3 L839.2 1381.6 L840.0 1381.9 L840.8 1381.6 L841.6 1381.6 L842.4 1378.5 L843.2 1379.3 L844.0 1381.9 L844.8 1380.9 L845.6 1381.8 L846.4 1381.8 L847.2 1380.8 L848.0 1380.9 L848.8 1380.5 L849.6 1381.4 L850.4 1381.2 L851.2 1381.8 L852.0 1380.4 L852.8 1380.9 L853.6 1381.7 L854.4 1381.9 L855.2 1380.6 L856.0 1381.9 L856.8 1381.8 L857.6 1380.7 L858.4 1381.8 L859.2 1380.5 L860.0 1381.9 L860.8 1380.8 L861.6 1378.2 L862.4 1381.1 L863.2 1381.7 L864.0 1381.8 L864.8 1381.7 L865.6 1381.9 L866.4 1381.9 L867.2 1380.7 L868.0 1381.5 L868.8 1381.9 L869.6 1381.4 L870.4 1381.1 L871.2 1381.0 L872.0 1381.2 L872.8 1381.6 L873.6 1380.9 L874.4 1381.6 L875.2 1380.3 L876.0 1380.0 L876.8 1381.6 L877.6 1380.8 L878.4 1381.7 L879.2 1381.1 L880.0 1380.8 L880.8 1381.3 L881.6 1380.3 L882.4 1380.9 L883.2 1380.3 L884.0 1380.9 L884.8 1381.7 L885.6 1381.5 L886.4 1381.2 L887.2 1380.5 L888.0 1381.0 L888.8 1379.0 L889.6 1381.0 L890.4 1381.0 L891.2 1380.7 L892.0 1381.8 L892.8 1381.5 L893.6 1381.3 L894.4 1381.7 L895.2 1380.8 L896.0 1379.7 L896.8 1380.4 L897.6 1381.7 L898.4 1380.9 L899.2 1381.3 L900.0 1381.3 L900.8 1381.3 L901.6 1381.7 L902.4 1380.6 L903.2 1381.2 L904.0 1380.8 L904.8 1380.6 L905.6 1381.6 L906.4 1381.8 L907.2 1380.0 L908.0 1379.9 L908.8 1380.9 L909.6 1380.7 L910.4 1381.2 L911.2 1380.2 L912.0 1381.2 L912.8 1380.6 L913.6 1379.4 L914.4 1381.4 L915.2 1380.3 L916.0 1381.4 L916.8 1381.0 L917.6 1381.7 L918.4 1378.4 L919.2 1381.7 L920.0 1381.2 L920.8 1381.0 L921.6 1380.8 L922.4 1380.5 L923.2 1381.5 L924.0 1381.4 L924.8 1381.6 L925.6 1380.0 L926.4 1381.1 L927.2 1381.7 L928.0 1381.2 L928.8 1381.5 L929.6 1381.6 L930.4 1381.0 L931.2 1380.6 L932.0 1381.0 L932.8 1381.1 L933.6 1379.1 L934.4 1381.2 L935.2 1381.5 L936.0 1380.6 L936.8 1380.8 L937.6 1380.6 L938.4 1378.9 L939.2 1381.6 L940.0 1380.9 L940.8 1380.1 L941.6 1380.3 L942.4 1381.3 L943.2 1381.0 L944.0 1381.4 L944.8 1379.8 L945.6 1381.4 L946.4 1380.9 L947.2 1380.6 L948.0 1381.2 L948.8 1380.3 L949.6 1379.8 L950.4 1381.5 L951.2 1381.2 L952.0 1380.6 L952.8 1380.5 L953.6 1381.4 L954.4 1381.4 L955.2 1381.6 L956.0 1380.2 L956.8 1380.1 L957.6 1381.4 L958.4 1379.5 L959.2 1380.9 L960.0 1380.8 L960.8 1381.0 L961.6 1378.9 L962.4 1381.0 L963.2 1380.3 L964.0 1378.8 L964.8 1379.6 L965.6 1378.2 L966.4 1380.8 L967.2 1381.4 L968.0 1381.3 L968.8 1381.4 L969.6 1381.3 L970.4 1381.1 L971.2 1380.8 L972.0 1381.2 L972.8 1381.1 L973.6 1381.5 L974.4 1379.9 L975.2 1380.2 L976.0 1380.9 L976.8 1381.1 L977.6 1381.5 L978.4 1381.1 L979.2 1380.2 L980.0 1380.4 L980.8 1381.5 L981.6 1380.5 L982.4 1381.0 L983.2 1380.9 L984.0 1381.2 L984.8 1381.0 L985.6 1378.7 L986.4 1380.6 L987.2 1379.6 L988.0 1380.1 L988.8 1381.2 L989.6 1380.8 L990.4 1380.0 L991.2 1380.8 L992.0 1380.4 L992.8 1380.8 L993.6 1381.5 L994.4 1379.3 L995.2 1381.3 L996.0 1379.9 L996.8 1381.0 L997.6 1380.7 L998.4 1380.7 L999.2 1381.3 L1000.0 1380.5 L1000.8 1379.9 L1001.6 1380.0 L1002.4 1380.9 L1003.2 1379.6 L1004.0 1380.9 L1004.8 1380.6 L1005.6 1380.0 L1006.4 1381.3 L1007.2 1379.7 L1008.0 1379.7 L1008.8 1380.3 L1009.6 1381.5 L1010.4 1380.8 L1011.2 1380.7" fill="none" stroke="#000" stroke-width="1.4" stroke-linejoin="miter"/>
<path d="M131.0 1384.5 V1380.3 M145.6 1384.5 V1368.4 M149.9 1384.4 V1340.0 M154.3 1384.4 V1350.5 M151.0 1384.4 V1378.0 M152.5 1384.4 V1378.0 M155.5 1384.4 V1378.3 M157.5 1384.4 V1379.0 M167.7 1384.4 V1379.6 M185.0 1384.3 V1380.3 M193.7 1384.3 V1372.8 M195.5 1384.3 V1045.8 M196.4 1384.3 V1272.0 M197.8 1384.3 V1315.8 M200.5 1384.3 V1372.8 M202.6 1384.3 V1375.5 M211.9 1384.3 V1379.6 M224.9 1384.2 V1380.3 M242.9 1384.2 V1375.5 M246.3 1384.2 V1377.6 M250.4 1384.2 V1380.3 M258.9 1384.1 V1379.0 M263.4 1384.1 V1376.2 M289.8 1384.0 V1376.6 M298.6 1384.0 V1378.0 M307.3 1384.0 V1365.0 M310.3 1384.0 V1365.0 M311.3 1384.0 V1373.9 M315.8 1384.0 V1371.2 M322.9 1383.9 V1378.7 M350.9 1383.9 V1370.2 M355.3 1383.9 V1374.6 M359.5 1383.8 V1377.0 M363.9 1383.8 V1367.5 M366.6 1383.8 V1378.0 M385.3 1383.8 V1375.3 M389.8 1383.8 V1334.0 M390.8 1383.8 V1364.3 M392.1 1383.8 V1371.2 M394.7 1383.7 V1378.7 M409.2 1383.7 V1367.5 M412.0 1383.7 V1340.1 M414.3 1383.7 V1372.5 M416.3 1383.7 V1363.4 M418.1 1383.7 V1375.3 M459.8 1383.6 V1371.2 M461.9 1383.6 V1359.6 M464.6 1383.5 V1300.1 M466.0 1383.5 V1361.6 M469.0 1383.5 V1377.0 M477.3 1383.5 V1379.4 M494.7 1383.5 V1377.0 M588.2 1383.2 V1266.9 M590.8 1383.2 V1357.3 M636.2 1383.1 V1359.7 M638.7 1383.1 V1373.8 M676.9 1382.9 V1376.0 M691.3 1382.9 V1376.0 M710.3 1382.9 V1375.2 M730.2 1382.8 V1375.2 M762.5 1382.7 V1363.2 M769.5 1382.7 V1372.7 M810.3 1382.6 V1372.2 M858.6 1382.4 V1376.0" stroke="#000" stroke-width="1.5" fill="none"/>
<path d="M149.0 1384.0 L149.3 1378.8 L152.0 1378.3 L155.0 1378.8 L158.0 1380.0 L159.0 1381.5 L160.0 1384.0Z" fill="#000"/>
<path d="M458.0 1384.0 L458.3 1374.4 L459.2 1374.4 L459.2 1371.0 L461.2 1371.0 L461.2 1359.8 L462.7 1359.8 L462.7 1366.5 L463.7 1366.5 L463.7 1362.0 L465.3 1362.0 L465.3 1361.5 L466.9 1361.5 L466.9 1381.0 L467.9 1381.0 L467.9 1377.0 L469.3 1377.0 L469.5 1381.5 L470.0 1384.0Z" fill="#000"/>
<path d="M307.3 1365.5 Q308.8 1362 310.3 1365.5" stroke="#000" stroke-width="1.4" fill="none"/>
<path d="M367.7 690.4 H885.9 V691.4 H946.2 L946.6 739.4 H947.3 L948.6 1037.8 H949.2 L949.4 1089.2" stroke="#444" stroke-width="1.2" fill="none"/>
<path d="M367.7 690.4 L370.8 1089.2 H949.4" stroke="#222" stroke-width="1.3" fill="none"/>
<path d="M369.0 1086.0 H372.4" stroke="#222" stroke-width="1.2"/>
<path d="M368.9 1075.9 H372.3" stroke="#222" stroke-width="1.2"/>
<path d="M368.8 1065.8 H372.2" stroke="#222" stroke-width="1.2"/>
<path d="M368.7 1055.7 H372.1" stroke="#222" stroke-width="1.2"/>
<path d="M368.7 1045.6 H372.1" stroke="#222" stroke-width="1.2"/>
<path d="M368.6 1035.5 H372.0" stroke="#222" stroke-width="1.2"/>
<path d="M368.5 1025.3 H371.9" stroke="#222" stroke-width="1.2"/>
<path d="M368.4 1015.2 H371.8" stroke="#222" stroke-width="1.2"/>
<path d="M368.3 1005.1 H371.7" stroke="#222" stroke-width="1.2"/>
<path d="M368.3 995.0 H371.7" stroke="#222" stroke-width="1.2"/>
<path d="M368.2 984.9 H371.6" stroke="#222" stroke-width="1.2"/>
<path d="M368.1 974.8 H371.5" stroke="#222" stroke-width="1.2"/>
<path d="M368.0 964.7 H371.4" stroke="#222" stroke-width="1.2"/>
<path d="M368.0 954.6 H371.4" stroke="#222" stroke-width="1.2"/>
<path d="M367.9 944.5 H371.3" stroke="#222" stroke-width="1.2"/>
<path d="M367.8 934.4 H371.2" stroke="#222" stroke-width="1.2"/>
<path d="M367.7 924.2 H371.1" stroke="#222" stroke-width="1.2"/>
<path d="M367.6 914.1 H371.0" stroke="#222" stroke-width="1.2"/>
<path d="M367.6 904.0 H371.0" stroke="#222" stroke-width="1.2"/>
<path d="M367.5 893.9 H370.9" stroke="#222" stroke-width="1.2"/>
<path d="M367.4 883.8 H370.8" stroke="#222" stroke-width="1.2"/>
<path d="M367.3 873.7 H370.7" stroke="#222" stroke-width="1.2"/>
<path d="M367.2 863.6 H370.6" stroke="#222" stroke-width="1.2"/>
<path d="M367.2 853.5 H370.6" stroke="#222" stroke-width="1.2"/>
<path d="M367.1 843.4 H370.5" stroke="#222" stroke-width="1.2"/>
<path d="M367.0 833.2 H370.4" stroke="#222" stroke-width="1.2"/>
<path d="M366.9 823.1 H370.3" stroke="#222" stroke-width="1.2"/>
<path d="M366.9 813.0 H370.3" stroke="#222" stroke-width="1.2"/>
<path d="M366.8 802.9 H370.2" stroke="#222" stroke-width="1.2"/>
<path d="M366.7 792.8 H370.1" stroke="#222" stroke-width="1.2"/>
<path d="M366.6 782.7 H370.0" stroke="#222" stroke-width="1.2"/>
<path d="M366.5 772.6 H369.9" stroke="#222" stroke-width="1.2"/>
<path d="M366.5 762.5 H369.9" stroke="#222" stroke-width="1.2"/>
<path d="M366.4 752.4 H369.8" stroke="#222" stroke-width="1.2"/>
<path d="M366.3 742.3 H369.7" stroke="#222" stroke-width="1.2"/>
<text transform="matrix(0.1546 0 0 0.1681 339.42 785.74)">600</text>
<text transform="matrix(0.1535 0 0 0.1723 339.59 836.53)">500</text>
<text transform="matrix(0.1519 0 0 0.1723 339.85 886.33)">400</text>
<text transform="matrix(0.1571 0 0 0.1709 339.60 937.53)">300</text>
<text transform="matrix(0.1609 0 0 0.1709 338.99 988.03)">200</text>
<text transform="matrix(0.1584 0 0 0.1667 339.19 1037.84)">100</text>
<text transform="matrix(0.1004 0 0 0.1073 361.91 1088.20)">0</text>
<path d="M373.0 1089 V1092.5" stroke="#222" stroke-width="1.3"/>
<path d="M389.9 1089 V1092.5" stroke="#222" stroke-width="1.3"/>
<path d="M406.7 1089 V1092.5" stroke="#222" stroke-width="1.3"/>
<path d="M423.6 1089 V1093.5" stroke="#222" stroke-width="1.3"/>
<path d="M440.4 1089 V1092.5" stroke="#222" stroke-width="1.3"/>
<path d="M457.3 1089 V1092.5" stroke="#222" stroke-width="1.3"/>
<path d="M474.2 1089 V1092.5" stroke="#222" stroke-width="1.3"/>
<path d="M491.0 1089 V1092.5" stroke="#222" stroke-width="1.3"/>
<path d="M507.9 1089 V1093.5" stroke="#222" stroke-width="1.3"/>
<path d="M524.8 1089 V1092.5" stroke="#222" stroke-width="1.3"/>
<path d="M541.6 1089 V1092.5" stroke="#222" stroke-width="1.3"/>
<path d="M558.5 1089 V1092.5" stroke="#222" stroke-width="1.3"/>
<path d="M575.4 1089 V1092.5" stroke="#222" stroke-width="1.3"/>
<path d="M592.2 1089 V1093.5" stroke="#222" stroke-width="1.3"/>
<path d="M609.1 1089 V1092.5" stroke="#222" stroke-width="1.3"/>
<path d="M625.9 1089 V1092.5" stroke="#222" stroke-width="1.3"/>
<path d="M642.8 1089 V1092.5" stroke="#222" stroke-width="1.3"/>
<path d="M659.7 1089 V1092.5" stroke="#222" stroke-width="1.3"/>
<path d="M676.5 1089 V1093.5" stroke="#222" stroke-width="1.3"/>
<path d="M693.4 1089 V1092.5" stroke="#222" stroke-width="1.3"/>
<path d="M710.3 1089 V1092.5" stroke="#222" stroke-width="1.3"/>
<path d="M727.1 1089 V1092.5" stroke="#222" stroke-width="1.3"/>
<path d="M744.0 1089 V1092.5" stroke="#222" stroke-width="1.3"/>
<path d="M760.9 1089 V1093.5" stroke="#222" stroke-width="1.3"/>
<path d="M777.7 1089 V1092.5" stroke="#222" stroke-width="1.3"/>
<path d="M794.6 1089 V1092.5" stroke="#222" stroke-width="1.3"/>
<path d="M811.5 1089 V1092.5" stroke="#222" stroke-width="1.3"/>
<path d="M828.3 1089 V1092.5" stroke="#222" stroke-width="1.3"/>
<path d="M845.2 1089 V1093.5" stroke="#222" stroke-width="1.3"/>
<path d="M862.0 1089 V1092.5" stroke="#222" stroke-width="1.3"/>
<path d="M878.9 1089 V1092.5" stroke="#222" stroke-width="1.3"/>
<path d="M895.8 1089 V1092.5" stroke="#222" stroke-width="1.3"/>
<path d="M912.6 1089 V1092.5" stroke="#222" stroke-width="1.3"/>
<path d="M929.5 1089 V1093.5" stroke="#222" stroke-width="1.3"/>
<path d="M946.4 1089 V1092.5" stroke="#222" stroke-width="1.3"/>
<text transform="matrix(0.1923 0 0 0.1949 356.82 1112.51)">675</text>
<text transform="matrix(0.1900 0 0 0.1949 414.23 1112.51)">680</text>
<text transform="matrix(0.1970 0 0 0.1949 491.90 1112.51)">690</text>
<text transform="matrix(0.1933 0 0 0.1949 575.71 1112.51)">700</text>
<text transform="matrix(0.1952 0 0 0.1949 660.70 1112.51)">710</text>
<text transform="matrix(0.1831 0 0 0.1949 748.66 1112.51)">720</text>
<text transform="matrix(0.1895 0 0 0.1949 830.03 1112.51)">730</text>
<text transform="matrix(0.1869 0 0 0.1949 914.24 1112.51)">740</text>
<text transform="matrix(0.1880 0 0 0.2233 956.65 1115.88)">m/z</text>
<text transform="matrix(0 -0.2556 0.2178 0 329.18 948.76)">Intens.ity(a.u.)</text>
<text transform="matrix(0.2628 0 0 0.2853 499.47 752.42)">UNAG-3P</text>
<text transform="matrix(0 -0.2543 0.2726 0 481.53 789.19)">686.12</text>
<text transform="matrix(0 -0.2533 0.2627 0 670.04 939.00)">708.10</text>
<text transform="matrix(0 -0.2568 0.2571 0 857.85 999.82)">730.09</text>
<path d="M371.50 1077.1 L372.00 1077.1 L372.50 1075.0 L373.00 1076.4 L373.50 1076.0 L374.00 1074.6 L374.50 1058.9 L375.00 1058.9 L375.50 1058.9 L376.00 1070.3 L376.50 1071.7 L377.00 1073.1 L377.50 1074.3 L378.00 1075.5 L378.50 1076.0 L379.00 1077.3 L379.50 1074.1 L380.00 1074.1 L380.50 1076.5 L381.00 1076.0 L381.50 1076.9 L382.00 1075.3 L382.50 1074.5 L383.00 1046.9 L383.50 1046.9 L384.00 1046.9 L384.50 1067.3 L385.00 1069.2 L385.50 1071.1 L386.00 1072.8 L386.50 1074.5 L387.00 1075.7 L387.50 1071.5 L388.00 1071.5 L388.50 1075.3 L389.00 1076.3 L389.50 1077.1 L390.00 1075.3 L390.50 1075.2 L391.00 1066.0 L391.50 1066.0 L392.00 1066.0 L392.50 1073.2 L393.00 1074.1 L393.50 1074.9 L394.00 1075.6 L394.50 1074.4 L395.00 1076.6 L395.50 1076.2 L396.00 1070.6 L396.50 1074.7 L397.00 1075.9 L397.50 1074.1 L398.00 1076.4 L398.50 1074.0 L399.00 1075.9 L399.50 1075.3 L400.00 1070.7 L400.50 1059.7 L401.00 1059.7 L401.50 1059.7 L402.00 1071.2 L402.50 1072.5 L403.00 1073.6 L403.50 1074.6 L404.00 1075.4 L404.50 1074.5 L405.00 1074.5 L405.50 1073.8 L406.00 1075.5 L406.50 1073.1 L407.00 1073.1 L407.50 1075.8 L408.00 1069.0 L408.50 1069.0 L409.00 1069.0 L409.50 1072.3 L410.00 1074.7 L410.50 1074.9 L411.00 1069.0 L411.50 1069.0 L412.00 1069.0 L412.50 1074.3 L413.00 1072.7 L413.50 1075.4 L414.00 1076.2 L414.50 1074.9 L415.00 1077.1 L415.50 1072.0 L416.00 1072.0 L416.50 1044.0 L417.00 1044.0 L417.50 1044.0 L418.00 1066.9 L418.50 1068.8 L419.00 1070.7 L419.50 1072.1 L420.00 1074.1 L420.50 1075.6 L421.00 1075.0 L421.50 1074.6 L422.00 1074.2 L422.50 1073.4 L423.00 1073.4 L423.50 1073.9 L424.00 1076.3 L424.50 1077.3 L425.00 1075.8 L425.50 1074.8 L426.00 1063.0 L426.50 1063.0 L427.00 1063.0 L427.50 1071.7 L428.00 1072.8 L428.50 1072.6 L429.00 1074.6 L429.50 1075.8 L430.00 1074.1 L430.50 1074.0 L431.00 1071.3 L431.50 1075.0 L432.00 1076.0 L432.50 1075.2 L433.00 1077.5 L433.50 1072.5 L434.00 1033.1 L434.50 1033.1 L435.00 1033.1 L435.50 1068.1 L436.00 1070.0 L436.50 1071.8 L437.00 1073.5 L437.50 1074.9 L438.00 1076.4 L438.50 1077.4 L439.00 1073.3 L439.50 1073.3 L440.00 1073.6 L440.50 1076.8 L441.00 1073.9 L441.50 1074.5 L442.00 1062.5 L442.50 1062.5 L443.00 1062.5 L443.50 1071.2 L444.00 1072.4 L444.50 1073.5 L445.00 1074.6 L445.50 1070.6 L446.00 1074.7 L446.50 1075.8 L447.00 1075.6 L447.50 1076.0 L448.00 1076.0 L448.50 1077.0 L449.00 1075.0 L449.50 1076.9 L450.00 1077.2 L450.50 1074.1 L451.00 1065.2 L451.50 1065.2 L452.00 1065.2 L452.50 1072.6 L453.00 1073.5 L453.50 1073.5 L454.00 1075.3 L454.50 1075.4 L455.00 1074.1 L455.50 1077.0 L456.00 1075.5 L456.50 1077.0 L457.00 1075.9 L457.50 1071.5 L458.00 1049.2 L458.50 1049.2 L459.00 1049.2 L459.50 1068.5 L460.00 1070.4 L460.50 1072.2 L461.00 1073.8 L461.50 1073.3 L462.00 1073.6 L462.50 1074.2 L463.00 1074.9 L463.50 1076.0 L464.00 1074.7 L464.50 1074.6 L465.00 1075.0 L465.50 1073.7 L466.00 1071.5 L466.50 1048.4 L467.00 1048.4 L467.50 1048.4 L468.00 1068.5 L468.50 1070.4 L469.00 1072.2 L469.50 1072.8 L470.00 1072.8 L470.50 1076.0 L471.00 1076.6 L471.50 1075.2 L472.00 1077.6 L472.50 1074.8 L473.00 1076.5 L473.50 1074.7 L474.00 1075.5 L474.50 1074.5 L475.00 792.9 L475.50 792.9 L476.00 792.9 L476.50 928.9 L477.00 928.9 L477.50 1067.7 L478.00 1069.6 L478.50 1071.5 L479.00 1073.2 L479.50 1074.8 L480.00 1076.1 L480.50 1074.7 L481.00 1076.3 L481.50 1070.8 L482.00 1074.5 L482.50 1075.2 L483.00 1073.5 L483.50 989.4 L484.00 989.4 L484.50 989.4 L485.00 1067.7 L485.50 1069.6 L486.00 1071.5 L486.50 1073.2 L487.00 1073.7 L487.50 1076.1 L488.00 1073.1 L488.50 1073.1 L489.00 1075.5 L489.50 1073.6 L490.00 1073.9 L490.50 1074.0 L491.00 1075.0 L491.50 1064.8 L492.00 1064.8 L492.50 1064.8 L493.00 1072.8 L493.50 1073.8 L494.00 1074.7 L494.50 1070.8 L495.00 1070.8 L495.50 1075.2 L496.00 1076.3 L496.50 1076.8 L497.00 1075.3 L497.50 1072.9 L498.00 1074.4 L498.50 1075.7 L499.00 1074.4 L499.50 1076.0 L500.00 1072.8 L500.50 1072.5 L501.00 935.0 L501.50 935.0 L502.00 935.0 L502.50 1068.1 L503.00 1070.0 L503.50 1071.8 L504.00 1073.5 L504.50 1070.8 L505.00 1070.8 L505.50 1073.7 L506.00 1072.9 L506.50 1072.8 L507.00 1074.4 L507.50 1074.6 L508.00 1074.1 L508.50 1074.0 L509.00 1072.5 L509.50 1034.2 L510.00 1034.2 L510.50 1034.2 L511.00 1068.1 L511.50 1070.0 L512.00 1071.8 L512.50 1073.5 L513.00 1074.9 L513.50 1075.2 L514.00 1075.2 L514.50 1075.8 L515.00 1072.7 L515.50 1072.6 L516.00 1070.8 L516.50 1073.6 L517.00 1074.8 L517.50 1073.5 L518.00 1030.5 L518.50 1030.5 L519.00 1030.5 L519.50 1067.7 L520.00 1069.6 L520.50 1071.5 L521.00 1073.2 L521.50 1074.8 L522.00 1074.7 L522.50 1074.5 L523.00 1075.0 L523.50 1074.9 L524.00 1073.4 L524.50 1076.6 L525.00 1074.3 L525.50 1072.4 L526.00 1072.4 L526.50 1064.4 L527.00 1064.4 L527.50 1064.4 L528.00 1070.9 L528.50 1073.4 L529.00 1074.3 L529.50 1075.3 L530.00 1072.2 L530.50 1072.2 L531.00 1074.7 L531.50 1076.6 L532.00 1077.1 L532.50 1077.2 L533.00 1075.2 L533.50 1075.2 L534.00 1074.7 L534.50 1074.8 L535.00 1054.2 L535.50 1054.2 L536.00 1054.2 L536.50 1068.1 L537.00 1069.9 L537.50 1071.6 L538.00 1073.2 L538.50 1074.7 L539.00 1073.5 L539.50 1073.5 L540.00 1074.6 L540.50 1076.1 L541.00 1075.6 L541.50 1074.7 L542.00 1075.2 L542.50 1075.0 L543.00 1070.7 L543.50 1057.7 L544.00 1057.7 L544.50 1057.7 L545.00 1070.2 L545.50 1071.7 L546.00 1073.1 L546.50 1074.4 L547.00 1075.6 L547.50 1073.1 L548.00 1073.1 L548.50 1075.1 L549.00 1074.1 L549.50 1075.9 L550.00 1073.1 L550.50 1073.1 L551.00 1073.5 L551.50 1027.3 L552.00 1027.3 L552.50 1027.3 L553.00 1067.7 L553.50 1069.6 L554.00 1071.5 L554.50 1072.0 L555.00 1072.0 L555.50 1075.7 L556.00 1073.7 L556.50 1075.0 L557.00 1074.4 L557.50 1074.6 L558.00 1073.5 L558.50 1042.5 L559.00 1042.5 L559.50 1042.5 L560.00 1067.7 L560.50 1056.6 L561.00 1056.6 L561.50 1056.6 L562.00 1069.4 L562.50 1071.0 L563.00 1072.5 L563.50 1074.0 L564.00 1073.7 L564.50 1074.8 L565.00 1075.1 L565.50 1074.9 L566.00 1076.3 L566.50 1075.0 L567.00 1076.1 L567.50 1074.8 L568.00 1075.3 L568.50 1057.7 L569.00 1057.7 L569.50 1057.7 L570.00 1069.2 L570.50 1070.8 L571.00 1072.2 L571.50 1073.6 L572.00 1074.2 L572.50 1074.8 L573.00 1072.8 L573.50 1075.4 L574.00 1076.2 L574.50 1074.8 L575.00 1074.3 L575.50 1070.9 L576.00 1074.9 L576.50 1075.9 L577.00 1073.5 L577.50 1060.5 L578.00 1060.5 L578.50 1060.5 L579.00 1071.5 L579.50 1072.7 L580.00 1073.9 L580.50 1074.8 L581.00 1075.5 L581.50 1068.3 L582.00 1068.3 L582.50 1068.3 L583.00 1073.7 L583.50 1074.1 L584.00 1075.1 L584.50 1075.7 L585.00 1062.0 L585.50 1062.0 L586.00 1062.0 L586.50 1071.3 L587.00 1072.1 L587.50 1073.6 L588.00 1074.7 L588.50 1074.1 L589.00 1072.9 L589.50 1074.6 L590.00 1074.9 L590.50 1075.1 L591.00 1074.4 L591.50 1075.3 L592.00 1074.8 L592.50 1077.2 L593.00 1071.3 L593.50 1060.8 L594.00 1060.8 L594.50 1060.8 L595.00 1071.3 L595.50 1072.6 L596.00 1072.9 L596.50 1074.9 L597.00 1075.9 L597.50 1075.0 L598.00 1076.5 L598.50 1073.3 L599.00 1073.3 L599.50 1071.9 L600.00 1072.9 L600.50 1073.3 L601.00 1076.4 L601.50 1076.8 L602.00 1073.4 L602.50 1060.0 L603.00 1060.0 L603.50 1060.0 L604.00 1071.3 L604.50 1072.6 L605.00 1073.6 L605.50 1075.0 L606.00 1074.0 L606.50 1074.8 L607.00 1077.0 L607.50 1072.8 L608.00 1074.4 L608.50 1076.2 L609.00 1075.1 L609.50 1073.2 L610.00 1076.4 L610.50 1074.0 L611.00 1059.7 L611.50 1059.7 L612.00 1059.7 L612.50 1070.9 L613.00 1072.3 L613.50 1073.5 L614.00 1072.2 L614.50 1072.2 L615.00 1075.8 L615.50 1075.2 L616.00 1074.6 L616.50 1073.6 L617.00 1074.9 L617.50 1076.4 L618.00 1076.8 L618.50 1075.5 L619.00 1050.8 L619.50 1050.8 L620.00 1050.8 L620.50 1066.9 L621.00 1068.8 L621.50 1070.7 L622.00 1072.5 L622.50 1069.0 L623.00 1069.0 L623.50 1069.0 L624.00 1074.5 L624.50 1075.1 L625.00 1073.7 L625.50 1074.9 L626.00 1076.4 L626.50 1075.7 L627.00 1073.6 L627.50 1060.8 L628.00 1060.8 L628.50 1060.8 L629.00 1071.6 L629.50 1072.8 L630.00 1074.0 L630.50 1073.6 L631.00 1071.6 L631.50 1071.6 L632.00 1073.7 L632.50 1074.2 L633.00 1073.3 L633.50 1073.7 L634.00 1075.4 L634.50 1073.2 L635.00 1073.2 L635.50 1072.5 L636.00 1034.2 L636.50 1034.2 L637.00 1034.2 L637.50 1068.1 L638.00 1070.0 L638.50 1071.8 L639.00 1073.5 L639.50 1075.0 L640.00 1074.2 L640.50 1077.0 L641.00 1075.9 L641.50 1075.2 L642.00 1074.4 L642.50 1076.8 L643.00 1074.5 L643.50 1077.4 L644.00 1073.5 L644.50 1052.2 L645.00 1052.2 L645.50 1052.2 L646.00 1067.7 L646.50 1069.7 L647.00 1071.5 L647.50 1073.2 L648.00 1074.8 L648.50 1075.3 L649.00 1076.1 L649.50 1075.0 L650.00 1073.7 L650.50 1073.7 L651.00 1074.0 L651.50 1075.6 L652.00 1071.8 L652.50 1074.5 L653.00 1009.2 L653.50 1009.2 L654.00 1009.2 L654.50 1067.3 L655.00 1069.2 L655.50 1071.1 L656.00 1072.8 L656.50 1073.1 L657.00 1075.9 L657.50 1074.4 L658.00 1074.1 L658.50 1074.7 L659.00 1072.6 L659.50 1072.5 L660.00 985.1 L660.50 943.7 L661.00 943.7 L661.50 943.7 L662.00 1066.9 L662.50 1068.8 L663.00 1070.7 L663.50 1072.5 L664.00 1072.9 L664.50 1073.4 L665.00 1072.5 L665.50 1073.0 L666.00 1075.0 L666.50 1072.8 L667.00 1075.0 L667.50 1074.3 L668.00 1074.9 L668.50 1073.6 L669.00 1070.5 L669.50 1053.8 L670.00 1053.8 L670.50 1053.8 L671.00 1068.3 L671.50 1070.2 L672.00 1071.9 L672.50 1072.2 L673.00 1074.2 L673.50 1072.6 L674.00 1074.3 L674.50 1074.1 L675.00 1072.5 L675.50 1072.5 L676.00 1075.7 L676.50 1074.5 L677.00 1073.2 L677.50 1059.4 L678.00 1059.4 L678.50 1059.4 L679.00 1071.1 L679.50 1072.4 L680.00 1073.7 L680.50 1074.0 L681.00 1074.1 L681.50 1076.3 L682.00 1074.0 L682.50 1075.8 L683.00 1070.5 L683.50 1074.8 L684.00 1076.0 L684.50 1075.7 L685.00 1074.1 L685.50 1070.8 L686.00 1070.8 L686.50 1037.5 L687.00 1037.5 L687.50 1037.5 L688.00 1068.5 L688.50 1070.4 L689.00 1072.2 L689.50 1073.8 L690.00 1075.3 L690.50 1074.8 L691.00 1075.9 L691.50 1074.7 L692.00 1073.5 L692.50 1074.1 L693.00 1074.9 L693.50 1074.9 L694.00 1075.2 L694.50 1074.8 L695.00 1065.2 L695.50 1065.2 L696.00 1065.2 L696.50 1072.9 L697.00 1072.6 L697.50 1074.8 L698.00 1073.6 L698.50 1074.3 L699.00 1076.4 L699.50 1073.4 L700.00 1073.5 L700.50 1076.8 L701.00 1071.9 L701.50 1071.9 L702.00 1075.1 L702.50 1072.6 L703.00 1056.6 L703.50 1056.6 L704.00 1056.6 L704.50 1070.1 L705.00 1070.9 L705.50 1073.1 L706.00 1074.5 L706.50 1075.7 L707.00 1076.8 L707.50 1076.3 L708.00 1077.4 L708.50 1074.5 L709.00 1076.0 L709.50 1076.5 L710.00 1074.7 L710.50 1075.7 L711.00 1075.8 L711.50 1074.5 L712.00 1047.2 L712.50 1047.2 L713.00 1047.2 L713.50 1067.3 L714.00 1069.2 L714.50 1071.1 L715.00 1072.8 L715.50 1074.5 L716.00 1075.9 L716.50 1076.3 L717.00 1072.5 L717.50 1072.5 L718.00 1074.8 L718.50 1073.3 L719.00 1074.2 L719.50 1071.3 L720.00 1071.3 L720.50 1052.3 L721.00 1052.3 L721.50 1052.3 L722.00 1068.6 L722.50 1070.4 L723.00 1070.7 L723.50 1073.9 L724.00 1073.4 L724.50 1076.5 L725.00 1076.6 L725.50 1072.6 L726.00 1072.6 L726.50 1076.1 L727.00 1075.1 L727.50 1075.7 L728.00 1074.1 L728.50 1055.8 L729.00 1055.8 L729.50 1055.8 L730.00 1069.1 L730.50 1070.8 L731.00 1072.4 L731.50 1073.8 L732.00 1075.2 L732.50 1076.3 L733.00 1074.4 L733.50 1076.9 L734.00 1076.6 L734.50 1075.6 L735.00 1074.3 L735.50 1074.1 L736.00 1071.5 L736.50 1052.2 L737.00 1052.2 L737.50 1052.2 L738.00 1068.5 L738.50 1070.4 L739.00 1072.2 L739.50 1073.2 L740.00 1073.2 L740.50 1075.9 L741.00 1075.0 L741.50 1074.4 L742.00 1074.4 L742.50 1075.3 L743.00 1074.1 L743.50 1076.1 L744.00 1073.9 L744.50 1075.7 L745.00 1071.6 L745.50 1052.2 L746.00 1052.2 L746.50 1052.2 L747.00 1066.9 L747.50 1068.9 L748.00 1070.8 L748.50 1072.5 L749.00 1074.2 L749.50 1075.6 L750.00 1076.8 L750.50 1073.1 L751.00 1073.1 L751.50 1074.8 L752.00 1076.9 L752.50 1077.0 L753.00 1074.8 L753.50 1073.6 L754.00 1072.3 L754.50 1055.5 L755.00 1055.5 L755.50 1055.5 L756.00 1069.7 L756.50 1071.3 L757.00 1072.9 L757.50 1073.7 L758.00 1070.9 L758.50 1070.9 L759.00 1073.6 L759.50 1074.3 L760.00 1076.5 L760.50 1076.0 L761.00 1074.6 L761.50 1075.1 L762.00 1063.3 L762.50 1063.3 L763.00 1063.3 L763.50 1071.8 L764.00 1072.9 L764.50 1073.9 L765.00 1074.9 L765.50 1074.4 L766.00 1075.0 L766.50 1073.9 L767.00 1076.8 L767.50 1074.8 L768.00 1071.4 L768.50 1071.4 L769.00 1075.4 L769.50 1076.4 L770.00 1075.8 L770.50 1056.6 L771.00 1056.6 L771.50 1056.6 L772.00 1068.8 L772.50 1070.4 L773.00 1071.9 L773.50 1073.4 L774.00 1074.7 L774.50 1074.5 L775.00 1074.5 L775.50 1075.8 L776.00 1074.6 L776.50 1077.0 L777.00 1077.5 L777.50 1074.7 L778.00 1075.5 L778.50 1077.0 L779.00 1073.1 L779.50 1073.5 L780.00 1062.3 L780.50 1062.3 L781.00 1062.3 L781.50 1071.4 L782.00 1072.6 L782.50 1073.7 L783.00 1074.6 L783.50 1075.1 L784.00 1075.6 L784.50 1073.7 L785.00 1074.5 L785.50 1077.0 L786.00 1076.3 L786.50 1075.3 L787.00 1064.0 L787.50 1064.0 L788.00 1064.0 L788.50 1071.0 L789.00 1073.1 L789.50 1074.1 L790.00 1073.2 L790.50 1073.2 L791.00 1075.9 L791.50 1074.9 L792.00 1073.6 L792.50 1075.8 L793.00 1075.5 L793.50 1075.8 L794.00 1075.3 L794.50 1074.9 L795.00 1076.3 L795.50 1063.3 L796.00 1063.3 L796.50 1063.3 L797.00 1071.6 L797.50 1072.7 L798.00 1073.7 L798.50 1074.2 L799.00 1071.5 L799.50 1071.5 L800.00 1075.4 L800.50 1076.4 L801.00 1077.2 L801.50 1077.0 L802.00 1075.1 L802.50 1075.9 L803.00 1071.6 L803.50 1071.6 L804.00 1074.5 L804.50 1058.1 L805.00 1058.1 L805.50 1058.1 L806.00 1070.0 L806.50 1071.5 L807.00 1072.9 L807.50 1071.4 L808.00 1071.4 L808.50 1073.9 L809.00 1072.9 L809.50 1075.4 L810.00 1073.3 L810.50 1073.4 L811.00 1073.9 L811.50 1073.2 L812.00 1073.2 L812.50 1065.2 L813.00 1065.2 L813.50 1065.2 L814.00 1073.1 L814.50 1071.3 L815.00 1074.7 L815.50 1074.8 L816.00 1073.7 L816.50 1074.2 L817.00 1074.2 L817.50 1073.9 L818.00 1074.2 L818.50 1070.6 L819.00 1070.6 L819.50 1073.5 L820.00 1075.5 L820.50 1074.1 L821.00 1050.8 L821.50 1050.8 L822.00 1050.8 L822.50 1067.3 L823.00 1069.2 L823.50 1071.1 L824.00 1072.8 L824.50 1074.5 L825.00 1075.6 L825.50 1072.8 L826.00 1072.8 L826.50 1075.1 L827.00 1074.6 L827.50 1074.6 L828.00 1075.8 L828.50 1076.5 L829.00 1075.4 L829.50 1037.0 L830.00 1037.0 L830.50 1037.0 L831.00 1066.9 L831.50 1068.8 L832.00 1070.7 L832.50 1072.5 L833.00 1074.1 L833.50 1075.6 L834.00 1076.8 L834.50 1070.7 L835.00 1070.7 L835.50 1075.0 L836.00 1075.5 L836.50 1071.9 L837.00 1071.9 L837.50 1071.5 L838.00 1028.9 L838.50 1028.9 L839.00 1028.9 L839.50 1068.5 L840.00 1070.4 L840.50 1072.2 L841.00 1073.8 L841.50 1075.3 L842.00 1070.6 L842.50 1070.6 L843.00 1075.2 L843.50 1076.4 L844.00 1073.4 L844.50 1073.6 L845.00 1074.0 L845.50 1008.9 L846.00 1008.9 L846.50 1008.9 L847.00 1067.3 L847.50 1069.2 L848.00 1071.1 L848.50 1072.8 L849.00 1074.5 L849.50 1075.9 L850.00 1072.1 L850.50 1075.4 L851.00 1076.3 L851.50 1074.7 L852.00 1075.2 L852.50 1075.8 L853.00 1071.8 L853.50 1071.8 L854.00 1061.6 L854.50 1061.6 L855.00 1061.6 L855.50 1070.9 L856.00 1072.1 L856.50 1073.3 L857.00 1074.4 L857.50 1074.3 L858.00 1075.9 L858.50 1074.5 L859.00 1076.9 L859.50 1076.4 L860.00 1072.1 L860.50 1075.4 L861.00 1075.9 L861.50 1075.7 L862.00 1077.4 L862.50 1076.4 L863.00 1074.6 L863.50 1065.2 L864.00 1065.2 L864.50 1065.2 L865.00 1073.1 L865.50 1074.1 L866.00 1074.9 L866.50 1072.9 L867.00 1074.7 L867.50 1075.5 L868.00 1071.9 L868.50 1071.9 L869.00 1074.2 L869.50 1074.4 L870.00 1076.2 L870.50 1074.0 L871.00 1075.6 L871.50 1057.7 L872.00 1057.7 L872.50 1057.7 L873.00 1069.2 L873.50 1070.8 L874.00 1072.2 L874.50 1073.6 L875.00 1074.1 L875.50 1075.6 L876.00 1076.9 L876.50 1076.9 L877.00 1074.3 L877.50 1074.3 L878.00 1076.3 L878.50 1074.6 L879.00 1075.8 L879.50 1075.1 L880.00 1067.8 L880.50 1067.8 L881.00 1067.8 L881.50 1073.8 L882.00 1074.5 L882.50 1075.2 L883.00 1073.6 L883.50 1072.0 L884.00 1074.0 L884.50 1076.2 L885.00 1074.0 L885.50 1074.2 L886.00 1074.1 L886.50 1074.9 L887.00 1074.3 L887.50 1073.8 L888.00 1074.3 L888.50 1060.0 L889.00 1060.0 L889.50 1060.0 L890.00 1070.7 L890.50 1071.5 L891.00 1071.5 L891.50 1074.5 L892.00 1074.6 L892.50 1075.8 L893.00 1076.3 L893.50 1075.2 L894.00 1074.7 L894.50 1074.7 L895.00 1076.3 L895.50 1073.7 L896.00 1074.0 L896.50 1075.7 L897.00 1066.0 L897.50 1066.0 L898.00 1066.0 L898.50 1072.7 L899.00 1073.6 L899.50 1073.5 L900.00 1074.0 L900.50 1075.2 L901.00 1074.9 L901.50 1076.8 L902.00 1074.6 L902.50 1076.7 L903.00 1075.9 L903.50 1074.8 L904.00 1075.7 L904.50 1072.5 L905.00 1072.5 L905.50 1073.4 L906.00 1060.0 L906.50 1060.0 L907.00 1060.0 L907.50 1071.3 L908.00 1072.6 L908.50 1073.8 L909.00 1075.0 L909.50 1075.4 L910.00 1076.5 L910.50 1073.3 L911.00 1074.5 L911.50 1073.2 L912.00 1073.2 L912.50 1073.0 L913.00 1073.3 L913.50 1073.7 L914.00 1074.3 L914.50 1068.3 L915.00 1068.3 L915.50 1068.3 L916.00 1074.2 L916.50 1074.9 L917.00 1073.3 L917.50 1073.4 L918.00 1073.7 L918.50 1074.5 L919.00 1075.5 L919.50 1073.3 L920.00 1076.1 L920.50 1076.2 L921.00 1072.8 L921.50 1072.8 L922.00 1066.0 L922.50 1066.0 L923.00 1066.0 L923.50 1072.7 L924.00 1073.6 L924.50 1074.4 L925.00 1072.8 L925.50 1075.0 L926.00 1074.0 L926.50 1075.6 L927.00 1075.4 L927.50 1075.8 L928.00 1077.5 L928.50 1076.5 L929.00 1074.0 L929.50 1076.1 L930.00 1074.8 L930.50 1074.8 L931.00 1066.0 L931.50 1066.0 L932.00 1066.0 L932.50 1073.4 L933.00 1074.3 L933.50 1073.5 L934.00 1074.1 L934.50 1075.9 L935.00 1075.3 L935.50 1076.6 L936.00 1073.2 L936.50 1076.0 L937.00 1074.7 L937.50 1073.5 L938.00 1076.6 L938.50 1073.5 L939.00 1048.8 L939.50 1048.8 L940.00 1048.8 L940.50 1067.7 L941.00 1069.6 L941.50 1071.5 L942.00 1073.2 L942.50 1074.8 L943.00 1073.3 L943.50 1075.9 L944.00 1076.6 L944.50 1075.9 L945.00 1074.6 L945.50 1076.4 L946.00 1074.7 L946.50 1074.3 L947.00 1075.3 L947.50 1066.7 L948.00 1066.7 L948.50 1066.7 L948.50 1084.2 L948.00 1085.0 L947.50 1084.6 L947.00 1084.2 L946.50 1084.1 L946.00 1084.4 L945.50 1084.4 L945.00 1084.2 L944.50 1083.6 L944.00 1084.7 L943.50 1085.0 L943.00 1084.2 L942.50 1083.1 L942.00 1083.6 L941.50 1084.2 L941.00 1083.7 L940.50 1084.3 L940.00 1084.8 L939.50 1084.2 L939.00 1084.4 L938.50 1084.2 L938.00 1084.8 L937.50 1085.0 L937.00 1083.2 L936.50 1084.5 L936.00 1084.6 L935.50 1084.5 L935.00 1085.0 L934.50 1083.6 L934.00 1084.1 L933.50 1083.6 L933.00 1084.6 L932.50 1084.6 L932.00 1083.4 L931.50 1084.5 L931.00 1083.3 L930.50 1083.2 L930.00 1084.8 L929.50 1085.1 L929.00 1083.6 L928.50 1085.2 L928.00 1083.2 L927.50 1083.3 L927.00 1084.9 L926.50 1083.8 L926.00 1084.5 L925.50 1085.0 L925.00 1084.9 L924.50 1083.2 L924.00 1085.0 L923.50 1084.9 L923.00 1083.3 L922.50 1083.4 L922.00 1083.3 L921.50 1083.8 L921.00 1083.4 L920.50 1083.4 L920.00 1084.6 L919.50 1084.1 L919.00 1083.7 L918.50 1083.1 L918.00 1084.2 L917.50 1083.6 L917.00 1083.2 L916.50 1083.8 L916.00 1085.3 L915.50 1085.3 L915.00 1085.0 L914.50 1085.1 L914.00 1083.9 L913.50 1083.4 L913.00 1085.1 L912.50 1085.0 L912.00 1083.3 L911.50 1083.5 L911.00 1083.7 L910.50 1083.7 L910.00 1085.1 L909.50 1084.4 L909.00 1084.3 L908.50 1084.1 L908.00 1084.0 L907.50 1084.4 L907.00 1083.7 L906.50 1084.2 L906.00 1083.2 L905.50 1084.6 L905.00 1084.8 L904.50 1084.8 L904.00 1084.4 L903.50 1083.3 L903.00 1085.0 L902.50 1084.2 L902.00 1084.7 L901.50 1085.3 L901.00 1083.5 L900.50 1084.6 L900.00 1085.0 L899.50 1084.5 L899.00 1083.8 L898.50 1084.0 L898.00 1083.8 L897.50 1085.2 L897.00 1083.7 L896.50 1085.2 L896.00 1084.0 L895.50 1084.5 L895.00 1085.3 L894.50 1084.3 L894.00 1083.8 L893.50 1084.8 L893.00 1084.7 L892.50 1083.4 L892.00 1085.1 L891.50 1083.4 L891.00 1084.1 L890.50 1083.2 L890.00 1083.1 L889.50 1084.1 L889.00 1083.6 L888.50 1083.4 L888.00 1084.3 L887.50 1084.7 L887.00 1083.8 L886.50 1083.4 L886.00 1083.8 L885.50 1084.6 L885.00 1084.4 L884.50 1084.8 L884.00 1084.9 L883.50 1083.3 L883.00 1084.3 L882.50 1083.8 L882.00 1084.7 L881.50 1083.5 L881.00 1084.6 L880.50 1085.2 L880.00 1083.6 L879.50 1084.9 L879.00 1083.3 L878.50 1083.7 L878.00 1083.1 L877.50 1083.3 L877.00 1084.6 L876.50 1084.3 L876.00 1085.2 L875.50 1084.1 L875.00 1083.9 L874.50 1085.1 L874.00 1083.7 L873.50 1085.0 L873.00 1084.9 L872.50 1084.9 L872.00 1083.2 L871.50 1084.9 L871.00 1083.7 L870.50 1083.3 L870.00 1084.1 L869.50 1083.6 L869.00 1085.2 L868.50 1084.1 L868.00 1083.1 L867.50 1084.6 L867.00 1084.4 L866.50 1084.2 L866.00 1084.6 L865.50 1084.6 L865.00 1085.0 L864.50 1085.0 L864.00 1083.7 L863.50 1083.6 L863.00 1084.2 L862.50 1084.2 L862.00 1084.0 L861.50 1084.6 L861.00 1084.7 L860.50 1084.4 L860.00 1085.2 L859.50 1085.3 L859.00 1084.9 L858.50 1085.1 L858.00 1084.1 L857.50 1084.6 L857.00 1084.9 L856.50 1083.6 L856.00 1084.9 L855.50 1083.3 L855.00 1085.0 L854.50 1085.0 L854.00 1084.7 L853.50 1083.8 L853.00 1085.0 L852.50 1084.9 L852.00 1083.3 L851.50 1084.5 L851.00 1085.1 L850.50 1083.7 L850.00 1084.6 L849.50 1084.2 L849.00 1084.2 L848.50 1083.3 L848.00 1084.5 L847.50 1085.2 L847.00 1083.1 L846.50 1084.3 L846.00 1083.7 L845.50 1084.7 L845.00 1085.0 L844.50 1083.9 L844.00 1085.1 L843.50 1083.6 L843.00 1083.6 L842.50 1083.7 L842.00 1084.4 L841.50 1083.7 L841.00 1084.2 L840.50 1083.3 L840.00 1084.7 L839.50 1084.1 L839.00 1084.1 L838.50 1083.8 L838.00 1084.7 L837.50 1084.3 L837.00 1084.5 L836.50 1083.1 L836.00 1084.8 L835.50 1083.8 L835.00 1083.4 L834.50 1084.4 L834.00 1084.7 L833.50 1084.0 L833.00 1084.6 L832.50 1083.6 L832.00 1084.5 L831.50 1084.2 L831.00 1085.0 L830.50 1083.3 L830.00 1084.9 L829.50 1084.4 L829.00 1084.8 L828.50 1083.8 L828.00 1084.5 L827.50 1083.5 L827.00 1083.6 L826.50 1083.8 L826.00 1083.5 L825.50 1084.3 L825.00 1084.3 L824.50 1085.1 L824.00 1085.1 L823.50 1083.5 L823.00 1085.0 L822.50 1085.2 L822.00 1084.2 L821.50 1084.7 L821.00 1083.9 L820.50 1084.1 L820.00 1083.3 L819.50 1083.9 L819.00 1083.4 L818.50 1083.1 L818.00 1084.8 L817.50 1083.5 L817.00 1084.8 L816.50 1083.2 L816.00 1083.5 L815.50 1085.2 L815.00 1083.2 L814.50 1085.2 L814.00 1083.9 L813.50 1085.3 L813.00 1085.0 L812.50 1083.8 L812.00 1083.5 L811.50 1084.9 L811.00 1083.5 L810.50 1084.6 L810.00 1084.3 L809.50 1084.1 L809.00 1083.9 L808.50 1084.5 L808.00 1083.7 L807.50 1084.8 L807.00 1084.7 L806.50 1084.3 L806.00 1085.0 L805.50 1084.1 L805.00 1083.7 L804.50 1084.0 L804.00 1083.2 L803.50 1084.9 L803.00 1084.6 L802.50 1083.5 L802.00 1083.5 L801.50 1084.4 L801.00 1085.1 L800.50 1084.5 L800.00 1084.7 L799.50 1083.8 L799.00 1084.3 L798.50 1083.3 L798.00 1084.5 L797.50 1084.2 L797.00 1083.3 L796.50 1084.4 L796.00 1083.6 L795.50 1084.1 L795.00 1085.1 L794.50 1083.8 L794.00 1083.5 L793.50 1084.2 L793.00 1083.7 L792.50 1083.2 L792.00 1084.2 L791.50 1085.0 L791.00 1083.4 L790.50 1083.6 L790.00 1083.2 L789.50 1083.6 L789.00 1085.2 L788.50 1084.3 L788.00 1083.7 L787.50 1085.2 L787.00 1083.1 L786.50 1084.2 L786.00 1084.6 L785.50 1083.9 L785.00 1084.7 L784.50 1084.2 L784.00 1083.6 L783.50 1084.0 L783.00 1084.0 L782.50 1085.0 L782.00 1083.8 L781.50 1084.1 L781.00 1084.7 L780.50 1084.2 L780.00 1083.8 L779.50 1083.5 L779.00 1085.0 L778.50 1084.2 L778.00 1084.9 L777.50 1084.7 L777.00 1083.5 L776.50 1085.0 L776.00 1085.0 L775.50 1084.3 L775.00 1083.3 L774.50 1083.3 L774.00 1083.9 L773.50 1084.3 L773.00 1084.8 L772.50 1085.1 L772.00 1084.6 L771.50 1083.3 L771.00 1084.6 L770.50 1084.0 L770.00 1084.1 L769.50 1084.3 L769.00 1084.2 L768.50 1085.2 L768.00 1084.3 L767.50 1084.4 L767.00 1084.0 L766.50 1084.6 L766.00 1084.8 L765.50 1083.4 L765.00 1083.6 L764.50 1085.0 L764.00 1083.3 L763.50 1085.0 L763.00 1083.3 L762.50 1084.1 L762.00 1083.1 L761.50 1083.2 L761.00 1085.0 L760.50 1084.3 L760.00 1084.5 L759.50 1084.9 L759.00 1084.0 L758.50 1084.1 L758.00 1084.9 L757.50 1084.9 L757.00 1084.6 L756.50 1084.9 L756.00 1083.8 L755.50 1085.2 L755.00 1085.2 L754.50 1085.1 L754.00 1083.7 L753.50 1084.4 L753.00 1084.8 L752.50 1084.9 L752.00 1085.1 L751.50 1084.0 L751.00 1084.6 L750.50 1083.7 L750.00 1085.2 L749.50 1084.7 L749.00 1084.5 L748.50 1084.6 L748.00 1083.5 L747.50 1084.6 L747.00 1083.6 L746.50 1084.4 L746.00 1083.3 L745.50 1084.0 L745.00 1083.6 L744.50 1084.1 L744.00 1084.9 L743.50 1083.2 L743.00 1085.0 L742.50 1084.2 L742.00 1085.2 L741.50 1083.1 L741.00 1084.2 L740.50 1084.6 L740.00 1085.3 L739.50 1084.4 L739.00 1084.5 L738.50 1083.5 L738.00 1083.1 L737.50 1083.1 L737.00 1084.3 L736.50 1083.5 L736.00 1084.7 L735.50 1083.2 L735.00 1083.5 L734.50 1084.3 L734.00 1084.4 L733.50 1083.9 L733.00 1085.0 L732.50 1085.2 L732.00 1083.5 L731.50 1083.7 L731.00 1083.9 L730.50 1084.4 L730.00 1085.0 L729.50 1083.2 L729.00 1084.2 L728.50 1084.0 L728.00 1084.3 L727.50 1084.0 L727.00 1085.2 L726.50 1084.1 L726.00 1083.3 L725.50 1084.2 L725.00 1084.7 L724.50 1083.3 L724.00 1083.2 L723.50 1084.5 L723.00 1083.6 L722.50 1084.9 L722.00 1083.8 L721.50 1083.5 L721.00 1083.5 L720.50 1084.9 L720.00 1084.3 L719.50 1084.2 L719.00 1083.3 L718.50 1083.8 L718.00 1084.3 L717.50 1084.5 L717.00 1083.6 L716.50 1084.9 L716.00 1083.7 L715.50 1084.4 L715.00 1083.7 L714.50 1085.0 L714.00 1084.4 L713.50 1085.0 L713.00 1083.4 L712.50 1083.7 L712.00 1084.3 L711.50 1083.4 L711.00 1084.0 L710.50 1084.1 L710.00 1084.5 L709.50 1084.5 L709.00 1085.0 L708.50 1085.2 L708.00 1083.4 L707.50 1083.2 L707.00 1084.9 L706.50 1085.2 L706.00 1085.0 L705.50 1085.2 L705.00 1085.2 L704.50 1084.2 L704.00 1084.6 L703.50 1083.4 L703.00 1083.6 L702.50 1083.7 L702.00 1084.2 L701.50 1083.9 L701.00 1083.9 L700.50 1085.0 L700.00 1084.8 L699.50 1083.3 L699.00 1084.5 L698.50 1083.9 L698.00 1085.2 L697.50 1083.9 L697.00 1083.3 L696.50 1084.1 L696.00 1084.5 L695.50 1084.4 L695.00 1084.0 L694.50 1084.6 L694.00 1084.9 L693.50 1083.7 L693.00 1084.4 L692.50 1084.6 L692.00 1083.4 L691.50 1083.5 L691.00 1083.6 L690.50 1083.6 L690.00 1085.1 L689.50 1083.8 L689.00 1084.6 L688.50 1083.5 L688.00 1083.5 L687.50 1083.4 L687.00 1083.3 L686.50 1083.3 L686.00 1084.0 L685.50 1084.5 L685.00 1084.7 L684.50 1084.3 L684.00 1084.1 L683.50 1083.7 L683.00 1084.7 L682.50 1084.0 L682.00 1084.6 L681.50 1083.7 L681.00 1084.3 L680.50 1083.8 L680.00 1084.1 L679.50 1083.8 L679.00 1085.1 L678.50 1083.9 L678.00 1084.6 L677.50 1083.2 L677.00 1084.7 L676.50 1083.9 L676.00 1084.3 L675.50 1083.4 L675.00 1083.5 L674.50 1085.2 L674.00 1083.7 L673.50 1084.2 L673.00 1084.0 L672.50 1084.0 L672.00 1084.1 L671.50 1084.8 L671.00 1084.0 L670.50 1083.7 L670.00 1083.4 L669.50 1084.5 L669.00 1083.2 L668.50 1085.0 L668.00 1083.4 L667.50 1085.2 L667.00 1083.2 L666.50 1084.1 L666.00 1084.9 L665.50 1084.2 L665.00 1083.4 L664.50 1083.4 L664.00 1084.2 L663.50 1084.3 L663.00 1083.7 L662.50 1085.2 L662.00 1084.1 L661.50 1084.1 L661.00 1084.5 L660.50 1084.3 L660.00 1085.0 L659.50 1084.0 L659.00 1083.9 L658.50 1085.2 L658.00 1083.3 L657.50 1083.8 L657.00 1083.2 L656.50 1083.2 L656.00 1085.3 L655.50 1083.7 L655.00 1084.8 L654.50 1085.0 L654.00 1083.8 L653.50 1083.8 L653.00 1083.5 L652.50 1084.6 L652.00 1084.5 L651.50 1084.9 L651.00 1084.9 L650.50 1084.3 L650.00 1084.7 L649.50 1085.2 L649.00 1084.8 L648.50 1084.9 L648.00 1085.2 L647.50 1084.8 L647.00 1083.4 L646.50 1084.7 L646.00 1084.3 L645.50 1083.2 L645.00 1084.5 L644.50 1083.5 L644.00 1085.2 L643.50 1084.1 L643.00 1083.9 L642.50 1085.1 L642.00 1083.3 L641.50 1083.3 L641.00 1084.5 L640.50 1084.5 L640.00 1084.8 L639.50 1083.1 L639.00 1083.8 L638.50 1085.1 L638.00 1085.0 L637.50 1084.3 L637.00 1084.4 L636.50 1084.0 L636.00 1084.0 L635.50 1084.5 L635.00 1085.2 L634.50 1083.3 L634.00 1085.0 L633.50 1085.0 L633.00 1083.2 L632.50 1085.1 L632.00 1083.7 L631.50 1083.9 L631.00 1084.8 L630.50 1085.2 L630.00 1084.2 L629.50 1083.3 L629.00 1083.9 L628.50 1083.3 L628.00 1084.2 L627.50 1083.7 L627.00 1085.2 L626.50 1085.1 L626.00 1085.2 L625.50 1083.9 L625.00 1084.6 L624.50 1083.6 L624.00 1083.7 L623.50 1084.2 L623.00 1084.3 L622.50 1084.6 L622.00 1083.9 L621.50 1083.3 L621.00 1085.0 L620.50 1084.3 L620.00 1084.2 L619.50 1084.6 L619.00 1085.0 L618.50 1083.3 L618.00 1083.9 L617.50 1084.0 L617.00 1083.7 L616.50 1084.9 L616.00 1084.8 L615.50 1084.3 L615.00 1084.9 L614.50 1083.7 L614.00 1084.7 L613.50 1084.4 L613.00 1084.5 L612.50 1084.9 L612.00 1083.7 L611.50 1085.0 L611.00 1083.4 L610.50 1084.5 L610.00 1085.1 L609.50 1085.3 L609.00 1083.2 L608.50 1083.9 L608.00 1083.1 L607.50 1084.3 L607.00 1083.9 L606.50 1084.2 L606.00 1084.7 L605.50 1084.2 L605.00 1084.4 L604.50 1085.0 L604.00 1083.8 L603.50 1083.4 L603.00 1084.6 L602.50 1083.5 L602.00 1084.2 L601.50 1084.6 L601.00 1084.2 L600.50 1084.5 L600.00 1084.6 L599.50 1083.2 L599.00 1084.8 L598.50 1085.0 L598.00 1084.2 L597.50 1083.3 L597.00 1083.8 L596.50 1084.8 L596.00 1083.7 L595.50 1085.2 L595.00 1083.7 L594.50 1083.2 L594.00 1084.5 L593.50 1084.2 L593.00 1083.4 L592.50 1083.6 L592.00 1084.7 L591.50 1084.0 L591.00 1083.7 L590.50 1084.1 L590.00 1084.7 L589.50 1084.6 L589.00 1083.8 L588.50 1084.2 L588.00 1085.1 L587.50 1084.3 L587.00 1085.3 L586.50 1083.5 L586.00 1084.6 L585.50 1083.3 L585.00 1084.2 L584.50 1085.2 L584.00 1084.3 L583.50 1085.0 L583.00 1083.3 L582.50 1084.8 L582.00 1085.1 L581.50 1084.5 L581.00 1084.5 L580.50 1083.2 L580.00 1084.1 L579.50 1083.4 L579.00 1083.8 L578.50 1083.5 L578.00 1084.4 L577.50 1083.3 L577.00 1085.0 L576.50 1084.5 L576.00 1085.2 L575.50 1084.3 L575.00 1083.2 L574.50 1083.1 L574.00 1084.7 L573.50 1085.0 L573.00 1083.4 L572.50 1083.9 L572.00 1084.9 L571.50 1084.1 L571.00 1083.3 L570.50 1084.9 L570.00 1084.5 L569.50 1085.0 L569.00 1085.1 L568.50 1084.7 L568.00 1083.5 L567.50 1084.3 L567.00 1085.1 L566.50 1083.4 L566.00 1083.2 L565.50 1084.4 L565.00 1084.9 L564.50 1084.1 L564.00 1083.2 L563.50 1084.2 L563.00 1084.5 L562.50 1084.4 L562.00 1084.6 L561.50 1083.2 L561.00 1083.3 L560.50 1084.8 L560.00 1085.1 L559.50 1084.1 L559.00 1084.2 L558.50 1084.5 L558.00 1083.5 L557.50 1083.9 L557.00 1083.1 L556.50 1084.2 L556.00 1085.2 L555.50 1084.1 L555.00 1083.7 L554.50 1084.2 L554.00 1084.1 L553.50 1085.1 L553.00 1084.3 L552.50 1085.1 L552.00 1084.4 L551.50 1084.5 L551.00 1083.2 L550.50 1083.7 L550.00 1083.6 L549.50 1083.3 L549.00 1084.4 L548.50 1084.6 L548.00 1084.8 L547.50 1083.9 L547.00 1083.5 L546.50 1084.6 L546.00 1084.1 L545.50 1083.8 L545.00 1084.6 L544.50 1085.0 L544.00 1083.2 L543.50 1084.5 L543.00 1083.3 L542.50 1083.6 L542.00 1085.2 L541.50 1085.1 L541.00 1084.9 L540.50 1083.7 L540.00 1083.9 L539.50 1084.2 L539.00 1084.8 L538.50 1083.6 L538.00 1084.3 L537.50 1084.2 L537.00 1083.7 L536.50 1083.7 L536.00 1084.5 L535.50 1084.1 L535.00 1084.9 L534.50 1084.4 L534.00 1083.8 L533.50 1084.2 L533.00 1083.1 L532.50 1084.7 L532.00 1084.1 L531.50 1083.8 L531.00 1084.4 L530.50 1083.5 L530.00 1084.5 L529.50 1085.3 L529.00 1084.4 L528.50 1084.1 L528.00 1083.9 L527.50 1085.0 L527.00 1084.3 L526.50 1083.6 L526.00 1084.4 L525.50 1085.2 L525.00 1083.9 L524.50 1084.3 L524.00 1084.9 L523.50 1083.7 L523.00 1083.3 L522.50 1083.3 L522.00 1084.5 L521.50 1083.6 L521.00 1083.4 L520.50 1084.2 L520.00 1084.8 L519.50 1084.5 L519.00 1084.4 L518.50 1083.1 L518.00 1084.4 L517.50 1084.3 L517.00 1085.1 L516.50 1084.8 L516.00 1083.3 L515.50 1085.0 L515.00 1083.7 L514.50 1083.7 L514.00 1085.2 L513.50 1083.1 L513.00 1083.1 L512.50 1085.0 L512.00 1084.5 L511.50 1084.4 L511.00 1083.4 L510.50 1083.6 L510.00 1083.4 L509.50 1084.4 L509.00 1085.3 L508.50 1084.1 L508.00 1084.8 L507.50 1084.8 L507.00 1083.4 L506.50 1085.0 L506.00 1085.2 L505.50 1085.2 L505.00 1084.5 L504.50 1083.7 L504.00 1083.2 L503.50 1083.3 L503.00 1083.4 L502.50 1084.6 L502.00 1084.9 L501.50 1083.8 L501.00 1084.1 L500.50 1084.4 L500.00 1083.3 L499.50 1084.3 L499.00 1084.2 L498.50 1083.2 L498.00 1084.7 L497.50 1083.9 L497.00 1085.2 L496.50 1084.0 L496.00 1083.3 L495.50 1083.3 L495.00 1083.2 L494.50 1083.6 L494.00 1085.0 L493.50 1083.6 L493.00 1085.1 L492.50 1084.0 L492.00 1084.8 L491.50 1083.3 L491.00 1084.4 L490.50 1083.1 L490.00 1085.3 L489.50 1083.7 L489.00 1083.5 L488.50 1084.8 L488.00 1084.2 L487.50 1084.1 L487.00 1083.3 L486.50 1084.1 L486.00 1085.1 L485.50 1085.2 L485.00 1084.2 L484.50 1083.4 L484.00 1085.1 L483.50 1084.7 L483.00 1083.7 L482.50 1084.1 L482.00 1084.0 L481.50 1083.3 L481.00 1085.3 L480.50 1085.1 L480.00 1085.2 L479.50 1084.9 L479.00 1083.8 L478.50 1084.3 L478.00 1084.7 L477.50 1083.4 L477.00 1084.1 L476.50 1084.1 L476.00 1084.4 L475.50 1084.2 L475.00 1083.4 L474.50 1083.6 L474.00 1083.5 L473.50 1085.0 L473.00 1083.2 L472.50 1084.4 L472.00 1085.2 L471.50 1085.0 L471.00 1084.4 L470.50 1084.2 L470.00 1084.7 L469.50 1085.1 L469.00 1083.7 L468.50 1083.3 L468.00 1084.1 L467.50 1084.2 L467.00 1083.4 L466.50 1085.0 L466.00 1084.4 L465.50 1085.0 L465.00 1083.5 L464.50 1083.2 L464.00 1084.2 L463.50 1083.4 L463.00 1083.7 L462.50 1084.2 L462.00 1085.1 L461.50 1084.1 L461.00 1084.9 L460.50 1083.9 L460.00 1085.1 L459.50 1083.4 L459.00 1084.8 L458.50 1084.7 L458.00 1084.8 L457.50 1084.0 L457.00 1083.3 L456.50 1084.9 L456.00 1083.6 L455.50 1083.4 L455.00 1085.3 L454.50 1084.2 L454.00 1083.7 L453.50 1083.6 L453.00 1085.1 L452.50 1083.7 L452.00 1083.9 L451.50 1085.1 L451.00 1083.7 L450.50 1084.5 L450.00 1083.9 L449.50 1084.7 L449.00 1083.2 L448.50 1084.4 L448.00 1084.3 L447.50 1085.2 L447.00 1083.2 L446.50 1083.8 L446.00 1084.9 L445.50 1084.4 L445.00 1084.5 L444.50 1085.2 L444.00 1084.4 L443.50 1084.1 L443.00 1085.2 L442.50 1083.9 L442.00 1084.0 L441.50 1083.9 L441.00 1083.6 L440.50 1083.4 L440.00 1083.1 L439.50 1084.9 L439.00 1084.2 L438.50 1084.7 L438.00 1083.8 L437.50 1083.9 L437.00 1083.7 L436.50 1085.2 L436.00 1084.3 L435.50 1083.1 L435.00 1083.4 L434.50 1084.0 L434.00 1084.3 L433.50 1084.2 L433.00 1083.9 L432.50 1084.1 L432.00 1083.5 L431.50 1083.3 L431.00 1084.2 L430.50 1083.3 L430.00 1083.8 L429.50 1084.3 L429.00 1084.1 L428.50 1083.2 L428.00 1083.9 L427.50 1084.1 L427.00 1085.2 L426.50 1084.2 L426.00 1084.6 L425.50 1083.7 L425.00 1084.9 L424.50 1085.3 L424.00 1085.3 L423.50 1084.7 L423.00 1084.7 L422.50 1084.0 L422.00 1084.2 L421.50 1084.7 L421.00 1083.6 L420.50 1084.8 L420.00 1083.6 L419.50 1084.1 L419.00 1084.4 L418.50 1083.6 L418.00 1084.8 L417.50 1085.2 L417.00 1085.2 L416.50 1084.5 L416.00 1084.7 L415.50 1084.3 L415.00 1084.8 L414.50 1085.3 L414.00 1084.9 L413.50 1084.3 L413.00 1084.0 L412.50 1084.0 L412.00 1085.2 L411.50 1083.8 L411.00 1084.3 L410.50 1084.4 L410.00 1083.6 L409.50 1084.8 L409.00 1083.3 L408.50 1084.4 L408.00 1084.3 L407.50 1083.3 L407.00 1083.2 L406.50 1084.3 L406.00 1084.4 L405.50 1083.6 L405.00 1083.3 L404.50 1084.5 L404.00 1085.1 L403.50 1083.9 L403.00 1083.3 L402.50 1083.4 L402.00 1083.6 L401.50 1083.5 L401.00 1084.3 L400.50 1083.6 L400.00 1084.8 L399.50 1085.0 L399.00 1084.3 L398.50 1084.5 L398.00 1084.5 L397.50 1083.7 L397.00 1083.4 L396.50 1083.5 L396.00 1084.9 L395.50 1083.3 L395.00 1083.9 L394.50 1083.6 L394.00 1084.6 L393.50 1084.4 L393.00 1083.7 L392.50 1085.2 L392.00 1083.9 L391.50 1084.9 L391.00 1084.9 L390.50 1085.0 L390.00 1083.5 L389.50 1083.9 L389.00 1083.5 L388.50 1084.8 L388.00 1083.3 L387.50 1085.1 L387.00 1085.0 L386.50 1084.9 L386.00 1083.1 L385.50 1083.3 L385.00 1083.9 L384.50 1084.5 L384.00 1084.5 L383.50 1084.6 L383.00 1084.5 L382.50 1083.8 L382.00 1083.4 L381.50 1084.3 L381.00 1084.2 L380.50 1083.4 L380.00 1085.1 L379.50 1084.9 L379.00 1083.6 L378.50 1084.1 L378.00 1085.1 L377.50 1083.6 L377.00 1083.1 L376.50 1084.2 L376.00 1084.7 L375.50 1084.9 L375.00 1083.1 L374.50 1083.8 L374.00 1083.9 L373.50 1084.0 L373.00 1083.8 L372.50 1083.6 L372.00 1083.7 L371.50 1083.1Z" fill="#000" stroke="#000" stroke-width="0.5"/>
</svg></body></html>
